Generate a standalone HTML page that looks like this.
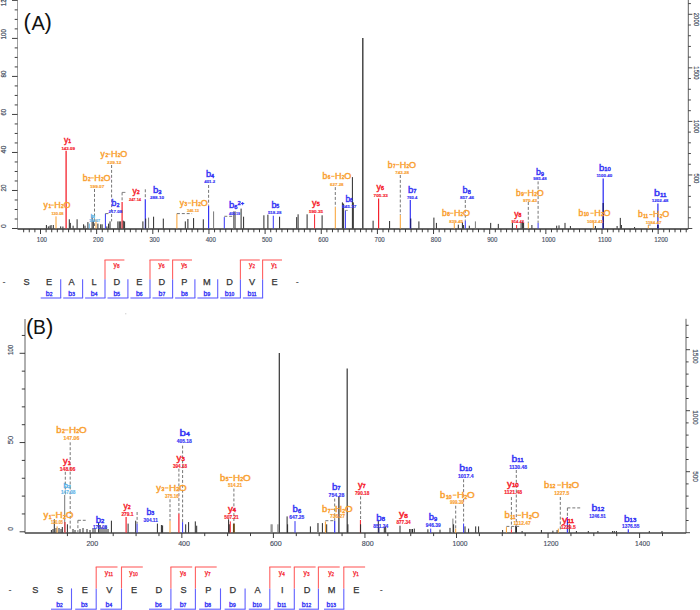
<!DOCTYPE html><html><head><meta charset="utf-8"><style>html,body{margin:0;padding:0;background:#fff;}#w{width:700px;height:610px;overflow:hidden;}svg{display:block;font-family:"Liberation Sans",sans-serif;}</style></head><body>
<div id="w"><svg width="700" height="610" viewBox="0 0 700 610">
<rect width="700" height="610" fill="#fff"/>
<g>
<line x1="17.5" y1="0" x2="17.5" y2="229" stroke="#a0a0a0" stroke-width="1"/>
<text x="0" y="0" font-size="7.4" fill="#454d60" stroke="#454d60" stroke-width="0.2" textLength="10.3" lengthAdjust="spacingAndGlyphs" transform="translate(6.2,6.2) rotate(-90)">120</text>
<line x1="12" y1="228.5" x2="17.5" y2="228.5" stroke="#333333" stroke-width="0.95"/>
<line x1="14.7" y1="219" x2="17.5" y2="219" stroke="#333333" stroke-width="0.95"/>
<line x1="14.7" y1="209.49" x2="17.5" y2="209.49" stroke="#333333" stroke-width="0.95"/>
<line x1="14.7" y1="199.99" x2="17.5" y2="199.99" stroke="#333333" stroke-width="0.95"/>
<line x1="12" y1="190.48" x2="17.5" y2="190.48" stroke="#333333" stroke-width="0.95"/>
<line x1="14.7" y1="180.97" x2="17.5" y2="180.97" stroke="#333333" stroke-width="0.95"/>
<line x1="14.7" y1="171.47" x2="17.5" y2="171.47" stroke="#333333" stroke-width="0.95"/>
<line x1="14.7" y1="161.96" x2="17.5" y2="161.96" stroke="#333333" stroke-width="0.95"/>
<line x1="12" y1="152.46" x2="17.5" y2="152.46" stroke="#333333" stroke-width="0.95"/>
<line x1="14.7" y1="142.95" x2="17.5" y2="142.95" stroke="#333333" stroke-width="0.95"/>
<line x1="14.7" y1="133.45" x2="17.5" y2="133.45" stroke="#333333" stroke-width="0.95"/>
<line x1="14.7" y1="123.94" x2="17.5" y2="123.94" stroke="#333333" stroke-width="0.95"/>
<line x1="12" y1="114.44" x2="17.5" y2="114.44" stroke="#333333" stroke-width="0.95"/>
<line x1="14.7" y1="104.93" x2="17.5" y2="104.93" stroke="#333333" stroke-width="0.95"/>
<line x1="14.7" y1="95.43" x2="17.5" y2="95.43" stroke="#333333" stroke-width="0.95"/>
<line x1="14.7" y1="85.92" x2="17.5" y2="85.92" stroke="#333333" stroke-width="0.95"/>
<line x1="12" y1="76.42" x2="17.5" y2="76.42" stroke="#333333" stroke-width="0.95"/>
<line x1="14.7" y1="66.91" x2="17.5" y2="66.91" stroke="#333333" stroke-width="0.95"/>
<line x1="14.7" y1="57.41" x2="17.5" y2="57.41" stroke="#333333" stroke-width="0.95"/>
<line x1="14.7" y1="47.9" x2="17.5" y2="47.9" stroke="#333333" stroke-width="0.95"/>
<line x1="12" y1="38.4" x2="17.5" y2="38.4" stroke="#333333" stroke-width="0.95"/>
<line x1="14.7" y1="28.89" x2="17.5" y2="28.89" stroke="#333333" stroke-width="0.95"/>
<line x1="14.7" y1="19.39" x2="17.5" y2="19.39" stroke="#333333" stroke-width="0.95"/>
<line x1="14.7" y1="9.88" x2="17.5" y2="9.88" stroke="#333333" stroke-width="0.95"/>
<line x1="12" y1="0.38" x2="17.5" y2="0.38" stroke="#333333" stroke-width="0.95"/>
<text x="0" y="0" font-size="7.4" fill="#454d60" stroke="#454d60" stroke-width="0.2" textLength="3.8" lengthAdjust="spacingAndGlyphs" transform="translate(6.2,228) rotate(-90)">0</text>
<text x="0" y="0" font-size="7.4" fill="#454d60" stroke="#454d60" stroke-width="0.2" textLength="7" lengthAdjust="spacingAndGlyphs" transform="translate(6.2,191.48) rotate(-90)">20</text>
<text x="0" y="0" font-size="7.4" fill="#454d60" stroke="#454d60" stroke-width="0.2" textLength="7.7" lengthAdjust="spacingAndGlyphs" transform="translate(6.2,153.46) rotate(-90)">40</text>
<text x="0" y="0" font-size="7.4" fill="#454d60" stroke="#454d60" stroke-width="0.2" textLength="6.6" lengthAdjust="spacingAndGlyphs" transform="translate(6.2,115.44) rotate(-90)">60</text>
<text x="0" y="0" font-size="7.4" fill="#454d60" stroke="#454d60" stroke-width="0.2" textLength="6.9" lengthAdjust="spacingAndGlyphs" transform="translate(6.2,77.42) rotate(-90)">80</text>
<text x="0" y="0" font-size="7.4" fill="#454d60" stroke="#454d60" stroke-width="0.2" textLength="10.3" lengthAdjust="spacingAndGlyphs" transform="translate(6.2,39.4) rotate(-90)">100</text>
<text x="0" y="0" font-size="7.4" fill="#454d60" stroke="#454d60" stroke-width="0.2" textLength="10.3" lengthAdjust="spacingAndGlyphs" transform="translate(6.2,1.38) rotate(-90)">120</text>
<line x1="688.3" y1="0" x2="688.3" y2="229" stroke="#606060" stroke-width="1"/>
<line x1="688.3" y1="228.5" x2="692.3" y2="228.5" stroke="#333333" stroke-width="0.9"/>
<line x1="688.3" y1="217.79" x2="690.9" y2="217.79" stroke="#333333" stroke-width="0.9"/>
<line x1="688.3" y1="207.08" x2="690.9" y2="207.08" stroke="#333333" stroke-width="0.9"/>
<line x1="688.3" y1="196.37" x2="690.9" y2="196.37" stroke="#333333" stroke-width="0.9"/>
<line x1="688.3" y1="185.66" x2="690.9" y2="185.66" stroke="#333333" stroke-width="0.9"/>
<line x1="688.3" y1="174.95" x2="692.3" y2="174.95" stroke="#333333" stroke-width="0.9"/>
<line x1="688.3" y1="164.24" x2="690.9" y2="164.24" stroke="#333333" stroke-width="0.9"/>
<line x1="688.3" y1="153.53" x2="690.9" y2="153.53" stroke="#333333" stroke-width="0.9"/>
<line x1="688.3" y1="142.82" x2="690.9" y2="142.82" stroke="#333333" stroke-width="0.9"/>
<line x1="688.3" y1="132.11" x2="690.9" y2="132.11" stroke="#333333" stroke-width="0.9"/>
<line x1="688.3" y1="121.4" x2="692.3" y2="121.4" stroke="#333333" stroke-width="0.9"/>
<line x1="688.3" y1="110.69" x2="690.9" y2="110.69" stroke="#333333" stroke-width="0.9"/>
<line x1="688.3" y1="99.98" x2="690.9" y2="99.98" stroke="#333333" stroke-width="0.9"/>
<line x1="688.3" y1="89.27" x2="690.9" y2="89.27" stroke="#333333" stroke-width="0.9"/>
<line x1="688.3" y1="78.56" x2="690.9" y2="78.56" stroke="#333333" stroke-width="0.9"/>
<line x1="688.3" y1="67.85" x2="692.3" y2="67.85" stroke="#333333" stroke-width="0.9"/>
<line x1="688.3" y1="57.14" x2="690.9" y2="57.14" stroke="#333333" stroke-width="0.9"/>
<line x1="688.3" y1="46.43" x2="690.9" y2="46.43" stroke="#333333" stroke-width="0.9"/>
<line x1="688.3" y1="35.72" x2="690.9" y2="35.72" stroke="#333333" stroke-width="0.9"/>
<line x1="688.3" y1="25.01" x2="690.9" y2="25.01" stroke="#333333" stroke-width="0.9"/>
<line x1="688.3" y1="14.3" x2="692.3" y2="14.3" stroke="#333333" stroke-width="0.9"/>
<line x1="688.3" y1="3.59" x2="690.9" y2="3.59" stroke="#333333" stroke-width="0.9"/>
<text x="0" y="0" font-size="7.4" fill="#454d60" stroke="#454d60" stroke-width="0.2" textLength="10" lengthAdjust="spacingAndGlyphs" transform="translate(694,173.45) rotate(90)">500</text>
<text x="0" y="0" font-size="7.4" fill="#454d60" stroke="#454d60" stroke-width="0.2" textLength="13.3" lengthAdjust="spacingAndGlyphs" transform="translate(694,119.9) rotate(90)">1000</text>
<text x="0" y="0" font-size="7.4" fill="#454d60" stroke="#454d60" stroke-width="0.2" textLength="13.3" lengthAdjust="spacingAndGlyphs" transform="translate(694,66.35) rotate(90)">1500</text>
<text x="0" y="0" font-size="7.4" fill="#454d60" stroke="#454d60" stroke-width="0.2" textLength="13.3" lengthAdjust="spacingAndGlyphs" transform="translate(694,12.8) rotate(90)">2000</text>
<line x1="17.5" y1="229" x2="688.3" y2="229" stroke="#333333" stroke-width="1.3"/>
<line x1="23.66" y1="229" x2="23.66" y2="232.3" stroke="#333333" stroke-width="0.95"/>
<line x1="29.27" y1="229" x2="29.27" y2="232.3" stroke="#333333" stroke-width="0.95"/>
<line x1="34.88" y1="229" x2="34.88" y2="232.3" stroke="#333333" stroke-width="0.95"/>
<line x1="40.5" y1="229" x2="40.5" y2="234" stroke="#333333" stroke-width="0.95"/>
<line x1="46.12" y1="229" x2="46.12" y2="232.3" stroke="#333333" stroke-width="0.95"/>
<line x1="51.73" y1="229" x2="51.73" y2="232.3" stroke="#333333" stroke-width="0.95"/>
<line x1="57.34" y1="229" x2="57.34" y2="232.3" stroke="#333333" stroke-width="0.95"/>
<line x1="62.96" y1="229" x2="62.96" y2="232.3" stroke="#333333" stroke-width="0.95"/>
<line x1="68.58" y1="229" x2="68.58" y2="232.3" stroke="#333333" stroke-width="0.95"/>
<line x1="74.19" y1="229" x2="74.19" y2="232.3" stroke="#333333" stroke-width="0.95"/>
<line x1="79.81" y1="229" x2="79.81" y2="232.3" stroke="#333333" stroke-width="0.95"/>
<line x1="85.42" y1="229" x2="85.42" y2="232.3" stroke="#333333" stroke-width="0.95"/>
<line x1="91.03" y1="229" x2="91.03" y2="232.3" stroke="#333333" stroke-width="0.95"/>
<line x1="96.65" y1="229" x2="96.65" y2="234" stroke="#333333" stroke-width="0.95"/>
<line x1="102.27" y1="229" x2="102.27" y2="232.3" stroke="#333333" stroke-width="0.95"/>
<line x1="107.88" y1="229" x2="107.88" y2="232.3" stroke="#333333" stroke-width="0.95"/>
<line x1="113.5" y1="229" x2="113.5" y2="232.3" stroke="#333333" stroke-width="0.95"/>
<line x1="119.11" y1="229" x2="119.11" y2="232.3" stroke="#333333" stroke-width="0.95"/>
<line x1="124.72" y1="229" x2="124.72" y2="232.3" stroke="#333333" stroke-width="0.95"/>
<line x1="130.34" y1="229" x2="130.34" y2="232.3" stroke="#333333" stroke-width="0.95"/>
<line x1="135.95" y1="229" x2="135.95" y2="232.3" stroke="#333333" stroke-width="0.95"/>
<line x1="141.57" y1="229" x2="141.57" y2="232.3" stroke="#333333" stroke-width="0.95"/>
<line x1="147.19" y1="229" x2="147.19" y2="232.3" stroke="#333333" stroke-width="0.95"/>
<line x1="152.8" y1="229" x2="152.8" y2="234" stroke="#333333" stroke-width="0.95"/>
<line x1="158.42" y1="229" x2="158.42" y2="232.3" stroke="#333333" stroke-width="0.95"/>
<line x1="164.03" y1="229" x2="164.03" y2="232.3" stroke="#333333" stroke-width="0.95"/>
<line x1="169.65" y1="229" x2="169.65" y2="232.3" stroke="#333333" stroke-width="0.95"/>
<line x1="175.26" y1="229" x2="175.26" y2="232.3" stroke="#333333" stroke-width="0.95"/>
<line x1="180.88" y1="229" x2="180.88" y2="232.3" stroke="#333333" stroke-width="0.95"/>
<line x1="186.49" y1="229" x2="186.49" y2="232.3" stroke="#333333" stroke-width="0.95"/>
<line x1="192.1" y1="229" x2="192.1" y2="232.3" stroke="#333333" stroke-width="0.95"/>
<line x1="197.72" y1="229" x2="197.72" y2="232.3" stroke="#333333" stroke-width="0.95"/>
<line x1="203.34" y1="229" x2="203.34" y2="232.3" stroke="#333333" stroke-width="0.95"/>
<line x1="208.95" y1="229" x2="208.95" y2="234" stroke="#333333" stroke-width="0.95"/>
<line x1="214.56" y1="229" x2="214.56" y2="232.3" stroke="#333333" stroke-width="0.95"/>
<line x1="220.18" y1="229" x2="220.18" y2="232.3" stroke="#333333" stroke-width="0.95"/>
<line x1="225.79" y1="229" x2="225.79" y2="232.3" stroke="#333333" stroke-width="0.95"/>
<line x1="231.41" y1="229" x2="231.41" y2="232.3" stroke="#333333" stroke-width="0.95"/>
<line x1="237.03" y1="229" x2="237.03" y2="232.3" stroke="#333333" stroke-width="0.95"/>
<line x1="242.64" y1="229" x2="242.64" y2="232.3" stroke="#333333" stroke-width="0.95"/>
<line x1="248.25" y1="229" x2="248.25" y2="232.3" stroke="#333333" stroke-width="0.95"/>
<line x1="253.87" y1="229" x2="253.87" y2="232.3" stroke="#333333" stroke-width="0.95"/>
<line x1="259.49" y1="229" x2="259.49" y2="232.3" stroke="#333333" stroke-width="0.95"/>
<line x1="265.1" y1="229" x2="265.1" y2="234" stroke="#333333" stroke-width="0.95"/>
<line x1="270.72" y1="229" x2="270.72" y2="232.3" stroke="#333333" stroke-width="0.95"/>
<line x1="276.33" y1="229" x2="276.33" y2="232.3" stroke="#333333" stroke-width="0.95"/>
<line x1="281.94" y1="229" x2="281.94" y2="232.3" stroke="#333333" stroke-width="0.95"/>
<line x1="287.56" y1="229" x2="287.56" y2="232.3" stroke="#333333" stroke-width="0.95"/>
<line x1="293.18" y1="229" x2="293.18" y2="232.3" stroke="#333333" stroke-width="0.95"/>
<line x1="298.79" y1="229" x2="298.79" y2="232.3" stroke="#333333" stroke-width="0.95"/>
<line x1="304.4" y1="229" x2="304.4" y2="232.3" stroke="#333333" stroke-width="0.95"/>
<line x1="310.02" y1="229" x2="310.02" y2="232.3" stroke="#333333" stroke-width="0.95"/>
<line x1="315.63" y1="229" x2="315.63" y2="232.3" stroke="#333333" stroke-width="0.95"/>
<line x1="321.25" y1="229" x2="321.25" y2="234" stroke="#333333" stroke-width="0.95"/>
<line x1="326.87" y1="229" x2="326.87" y2="232.3" stroke="#333333" stroke-width="0.95"/>
<line x1="332.48" y1="229" x2="332.48" y2="232.3" stroke="#333333" stroke-width="0.95"/>
<line x1="338.1" y1="229" x2="338.1" y2="232.3" stroke="#333333" stroke-width="0.95"/>
<line x1="343.71" y1="229" x2="343.71" y2="232.3" stroke="#333333" stroke-width="0.95"/>
<line x1="349.32" y1="229" x2="349.32" y2="232.3" stroke="#333333" stroke-width="0.95"/>
<line x1="354.94" y1="229" x2="354.94" y2="232.3" stroke="#333333" stroke-width="0.95"/>
<line x1="360.56" y1="229" x2="360.56" y2="232.3" stroke="#333333" stroke-width="0.95"/>
<line x1="366.17" y1="229" x2="366.17" y2="232.3" stroke="#333333" stroke-width="0.95"/>
<line x1="371.79" y1="229" x2="371.79" y2="232.3" stroke="#333333" stroke-width="0.95"/>
<line x1="377.4" y1="229" x2="377.4" y2="234" stroke="#333333" stroke-width="0.95"/>
<line x1="383.01" y1="229" x2="383.01" y2="232.3" stroke="#333333" stroke-width="0.95"/>
<line x1="388.63" y1="229" x2="388.63" y2="232.3" stroke="#333333" stroke-width="0.95"/>
<line x1="394.25" y1="229" x2="394.25" y2="232.3" stroke="#333333" stroke-width="0.95"/>
<line x1="399.86" y1="229" x2="399.86" y2="232.3" stroke="#333333" stroke-width="0.95"/>
<line x1="405.48" y1="229" x2="405.48" y2="232.3" stroke="#333333" stroke-width="0.95"/>
<line x1="411.09" y1="229" x2="411.09" y2="232.3" stroke="#333333" stroke-width="0.95"/>
<line x1="416.7" y1="229" x2="416.7" y2="232.3" stroke="#333333" stroke-width="0.95"/>
<line x1="422.32" y1="229" x2="422.32" y2="232.3" stroke="#333333" stroke-width="0.95"/>
<line x1="427.94" y1="229" x2="427.94" y2="232.3" stroke="#333333" stroke-width="0.95"/>
<line x1="433.55" y1="229" x2="433.55" y2="234" stroke="#333333" stroke-width="0.95"/>
<line x1="439.17" y1="229" x2="439.17" y2="232.3" stroke="#333333" stroke-width="0.95"/>
<line x1="444.78" y1="229" x2="444.78" y2="232.3" stroke="#333333" stroke-width="0.95"/>
<line x1="450.39" y1="229" x2="450.39" y2="232.3" stroke="#333333" stroke-width="0.95"/>
<line x1="456.01" y1="229" x2="456.01" y2="232.3" stroke="#333333" stroke-width="0.95"/>
<line x1="461.62" y1="229" x2="461.62" y2="232.3" stroke="#333333" stroke-width="0.95"/>
<line x1="467.24" y1="229" x2="467.24" y2="232.3" stroke="#333333" stroke-width="0.95"/>
<line x1="472.86" y1="229" x2="472.86" y2="232.3" stroke="#333333" stroke-width="0.95"/>
<line x1="478.47" y1="229" x2="478.47" y2="232.3" stroke="#333333" stroke-width="0.95"/>
<line x1="484.08" y1="229" x2="484.08" y2="232.3" stroke="#333333" stroke-width="0.95"/>
<line x1="489.7" y1="229" x2="489.7" y2="234" stroke="#333333" stroke-width="0.95"/>
<line x1="495.31" y1="229" x2="495.31" y2="232.3" stroke="#333333" stroke-width="0.95"/>
<line x1="500.93" y1="229" x2="500.93" y2="232.3" stroke="#333333" stroke-width="0.95"/>
<line x1="506.55" y1="229" x2="506.55" y2="232.3" stroke="#333333" stroke-width="0.95"/>
<line x1="512.16" y1="229" x2="512.16" y2="232.3" stroke="#333333" stroke-width="0.95"/>
<line x1="517.77" y1="229" x2="517.77" y2="232.3" stroke="#333333" stroke-width="0.95"/>
<line x1="523.39" y1="229" x2="523.39" y2="232.3" stroke="#333333" stroke-width="0.95"/>
<line x1="529" y1="229" x2="529" y2="232.3" stroke="#333333" stroke-width="0.95"/>
<line x1="534.62" y1="229" x2="534.62" y2="232.3" stroke="#333333" stroke-width="0.95"/>
<line x1="540.24" y1="229" x2="540.24" y2="232.3" stroke="#333333" stroke-width="0.95"/>
<line x1="545.85" y1="229" x2="545.85" y2="234" stroke="#333333" stroke-width="0.95"/>
<line x1="551.46" y1="229" x2="551.46" y2="232.3" stroke="#333333" stroke-width="0.95"/>
<line x1="557.08" y1="229" x2="557.08" y2="232.3" stroke="#333333" stroke-width="0.95"/>
<line x1="562.7" y1="229" x2="562.7" y2="232.3" stroke="#333333" stroke-width="0.95"/>
<line x1="568.31" y1="229" x2="568.31" y2="232.3" stroke="#333333" stroke-width="0.95"/>
<line x1="573.92" y1="229" x2="573.92" y2="232.3" stroke="#333333" stroke-width="0.95"/>
<line x1="579.54" y1="229" x2="579.54" y2="232.3" stroke="#333333" stroke-width="0.95"/>
<line x1="585.15" y1="229" x2="585.15" y2="232.3" stroke="#333333" stroke-width="0.95"/>
<line x1="590.77" y1="229" x2="590.77" y2="232.3" stroke="#333333" stroke-width="0.95"/>
<line x1="596.38" y1="229" x2="596.38" y2="232.3" stroke="#333333" stroke-width="0.95"/>
<line x1="602" y1="229" x2="602" y2="234" stroke="#333333" stroke-width="0.95"/>
<line x1="607.62" y1="229" x2="607.62" y2="232.3" stroke="#333333" stroke-width="0.95"/>
<line x1="613.23" y1="229" x2="613.23" y2="232.3" stroke="#333333" stroke-width="0.95"/>
<line x1="618.85" y1="229" x2="618.85" y2="232.3" stroke="#333333" stroke-width="0.95"/>
<line x1="624.46" y1="229" x2="624.46" y2="232.3" stroke="#333333" stroke-width="0.95"/>
<line x1="630.08" y1="229" x2="630.08" y2="232.3" stroke="#333333" stroke-width="0.95"/>
<line x1="635.69" y1="229" x2="635.69" y2="232.3" stroke="#333333" stroke-width="0.95"/>
<line x1="641.3" y1="229" x2="641.3" y2="232.3" stroke="#333333" stroke-width="0.95"/>
<line x1="646.92" y1="229" x2="646.92" y2="232.3" stroke="#333333" stroke-width="0.95"/>
<line x1="652.53" y1="229" x2="652.53" y2="232.3" stroke="#333333" stroke-width="0.95"/>
<line x1="658.15" y1="229" x2="658.15" y2="234" stroke="#333333" stroke-width="0.95"/>
<line x1="663.76" y1="229" x2="663.76" y2="232.3" stroke="#333333" stroke-width="0.95"/>
<line x1="669.38" y1="229" x2="669.38" y2="232.3" stroke="#333333" stroke-width="0.95"/>
<line x1="675" y1="229" x2="675" y2="232.3" stroke="#333333" stroke-width="0.95"/>
<line x1="680.61" y1="229" x2="680.61" y2="232.3" stroke="#333333" stroke-width="0.95"/>
<line x1="686.23" y1="229" x2="686.23" y2="232.3" stroke="#333333" stroke-width="0.95"/>
<text x="36.8" y="241.6" font-size="7.4" fill="#454d60" text-anchor="start" textLength="10.2" lengthAdjust="spacingAndGlyphs" stroke="#454d60" stroke-width="0.15">100</text>
<text x="93.1" y="241.6" font-size="7.4" fill="#454d60" text-anchor="start" textLength="10.2" lengthAdjust="spacingAndGlyphs" stroke="#454d60" stroke-width="0.15">200</text>
<text x="149.39" y="241.6" font-size="7.4" fill="#454d60" text-anchor="start" textLength="10.2" lengthAdjust="spacingAndGlyphs" stroke="#454d60" stroke-width="0.15">300</text>
<text x="205.69" y="241.6" font-size="7.4" fill="#454d60" text-anchor="start" textLength="10.2" lengthAdjust="spacingAndGlyphs" stroke="#454d60" stroke-width="0.15">400</text>
<text x="261.98" y="241.6" font-size="7.4" fill="#454d60" text-anchor="start" textLength="10.2" lengthAdjust="spacingAndGlyphs" stroke="#454d60" stroke-width="0.15">500</text>
<text x="318.28" y="241.6" font-size="7.4" fill="#454d60" text-anchor="start" textLength="10.2" lengthAdjust="spacingAndGlyphs" stroke="#454d60" stroke-width="0.15">600</text>
<text x="374.57" y="241.6" font-size="7.4" fill="#454d60" text-anchor="start" textLength="10.2" lengthAdjust="spacingAndGlyphs" stroke="#454d60" stroke-width="0.15">700</text>
<text x="430.87" y="241.6" font-size="7.4" fill="#454d60" text-anchor="start" textLength="10.2" lengthAdjust="spacingAndGlyphs" stroke="#454d60" stroke-width="0.15">800</text>
<text x="487.16" y="241.6" font-size="7.4" fill="#454d60" text-anchor="start" textLength="10.2" lengthAdjust="spacingAndGlyphs" stroke="#454d60" stroke-width="0.15">900</text>
<text x="541.76" y="241.6" font-size="7.4" fill="#454d60" text-anchor="start" textLength="13.6" lengthAdjust="spacingAndGlyphs" stroke="#454d60" stroke-width="0.15">1000</text>
<text x="598.05" y="241.6" font-size="7.4" fill="#454d60" text-anchor="start" textLength="13.6" lengthAdjust="spacingAndGlyphs" stroke="#454d60" stroke-width="0.15">1100</text>
<text x="654.35" y="241.6" font-size="7.4" fill="#454d60" text-anchor="start" textLength="13.6" lengthAdjust="spacingAndGlyphs" stroke="#454d60" stroke-width="0.15">1200</text>
<text x="23.6" y="29.35" font-size="22" fill="#111" text-anchor="start">(</text>
<text x="31.5" y="29.6" font-size="20" fill="#111" text-anchor="start">A</text>
<text x="44.4" y="29.35" font-size="22" fill="#111" text-anchor="start">)</text>
<line x1="46.4" y1="228.5" x2="46.4" y2="225" stroke="#2a2a2a" stroke-width="1"/>
<line x1="48.3" y1="228.5" x2="48.3" y2="226.4" stroke="#2a2a2a" stroke-width="1"/>
<line x1="50" y1="228.5" x2="50" y2="225.7" stroke="#2a2a2a" stroke-width="1"/>
<line x1="51.1" y1="228.5" x2="51.1" y2="225" stroke="#2a2a2a" stroke-width="1"/>
<line x1="53.3" y1="228.5" x2="53.3" y2="225" stroke="#2a2a2a" stroke-width="1"/>
<line x1="56" y1="228.5" x2="56" y2="216.4" stroke="#f9a030" stroke-width="1"/>
<line x1="60.7" y1="228.5" x2="60.7" y2="226.4" stroke="#2a2a2a" stroke-width="1"/>
<line x1="62.9" y1="228.5" x2="62.9" y2="226.5" stroke="#2a2a2a" stroke-width="1"/>
<line x1="66.1" y1="228.5" x2="66.1" y2="150.8" stroke="#f5222d" stroke-width="1.3"/>
<line x1="69.3" y1="228.5" x2="69.3" y2="219.3" stroke="#2a2a2a" stroke-width="1"/>
<line x1="70.3" y1="228.5" x2="70.3" y2="222.9" stroke="#2a2a2a" stroke-width="1"/>
<line x1="73.1" y1="228.5" x2="73.1" y2="225.7" stroke="#2a2a2a" stroke-width="1"/>
<line x1="77.1" y1="228.5" x2="77.1" y2="219.3" stroke="#2a2a2a" stroke-width="1"/>
<line x1="83.6" y1="228.5" x2="83.6" y2="224.3" stroke="#2a2a2a" stroke-width="1"/>
<line x1="85" y1="228.5" x2="85" y2="225.7" stroke="#2a2a2a" stroke-width="1"/>
<line x1="87.9" y1="228.5" x2="87.9" y2="222.1" stroke="#2a2a2a" stroke-width="1"/>
<line x1="89.3" y1="228.5" x2="89.3" y2="223.6" stroke="#5fb4e8" stroke-width="1"/>
<line x1="92.1" y1="228.5" x2="92.1" y2="216.4" stroke="#2a2a2a" stroke-width="1"/>
<line x1="93.3" y1="228.5" x2="93.3" y2="220.7" stroke="#2a2a2a" stroke-width="1"/>
<line x1="96" y1="228.5" x2="96" y2="219.3" stroke="#f9a030" stroke-width="1"/>
<line x1="97.9" y1="228.5" x2="97.9" y2="223.6" stroke="#2a2a2a" stroke-width="1"/>
<line x1="100.7" y1="228.5" x2="100.7" y2="224.3" stroke="#2a2a2a" stroke-width="1"/>
<line x1="102.1" y1="228.5" x2="102.1" y2="224.3" stroke="#2a2a2a" stroke-width="1"/>
<line x1="105.4" y1="228.5" x2="105.4" y2="213.6" stroke="#3535f5" stroke-width="1"/>
<line x1="106.9" y1="228.5" x2="106.9" y2="226.4" stroke="#2a2a2a" stroke-width="1"/>
<line x1="108.6" y1="228.5" x2="108.6" y2="223.6" stroke="#2a2a2a" stroke-width="1"/>
<line x1="110" y1="228.5" x2="110" y2="221.4" stroke="#2a2a2a" stroke-width="1"/>
<line x1="117.9" y1="228.5" x2="117.9" y2="221.4" stroke="#2a2a2a" stroke-width="1"/>
<line x1="119.3" y1="228.5" x2="119.3" y2="221.4" stroke="#2a2a2a" stroke-width="1"/>
<line x1="120.7" y1="228.5" x2="120.7" y2="221.4" stroke="#2a2a2a" stroke-width="1"/>
<line x1="122.1" y1="228.5" x2="122.1" y2="201.9" stroke="#f5222d" stroke-width="1.2"/>
<line x1="123.3" y1="228.5" x2="123.3" y2="220.7" stroke="#2a2a2a" stroke-width="1"/>
<line x1="124.6" y1="228.5" x2="124.6" y2="221.4" stroke="#2a2a2a" stroke-width="1"/>
<line x1="142.9" y1="228.5" x2="142.9" y2="221.4" stroke="#2a2a2a" stroke-width="1"/>
<line x1="145.3" y1="228.5" x2="145.3" y2="199.3" stroke="#3535f5" stroke-width="1.2"/>
<line x1="145.7" y1="228.5" x2="145.7" y2="218.6" stroke="#2a2a2a" stroke-width="1"/>
<line x1="148.6" y1="228.5" x2="148.6" y2="217.6" stroke="#787878" stroke-width="1"/>
<line x1="153.6" y1="228.5" x2="153.6" y2="216.7" stroke="#2a2a2a" stroke-width="1"/>
<line x1="163.3" y1="228.5" x2="163.3" y2="218.6" stroke="#2a2a2a" stroke-width="1"/>
<line x1="176.9" y1="228.5" x2="176.9" y2="213.6" stroke="#f9a030" stroke-width="1"/>
<line x1="185.3" y1="228.5" x2="185.3" y2="221.4" stroke="#2a2a2a" stroke-width="1"/>
<line x1="187.9" y1="228.5" x2="187.9" y2="219" stroke="#2a2a2a" stroke-width="1"/>
<line x1="193.6" y1="228.5" x2="193.6" y2="218.1" stroke="#2a2a2a" stroke-width="1"/>
<line x1="203.3" y1="228.5" x2="203.3" y2="219.3" stroke="#2a2a2a" stroke-width="1"/>
<line x1="208.6" y1="228.5" x2="208.6" y2="205.7" stroke="#3535f5" stroke-width="1.2"/>
<line x1="213.6" y1="228.5" x2="213.6" y2="211.4" stroke="#787878" stroke-width="1"/>
<line x1="224.3" y1="228.5" x2="224.3" y2="217.1" stroke="#3535f5" stroke-width="1"/>
<line x1="233.6" y1="228.5" x2="233.6" y2="211.4" stroke="#787878" stroke-width="1"/>
<line x1="235" y1="228.5" x2="235" y2="211.4" stroke="#2a2a2a" stroke-width="1"/>
<line x1="241.1" y1="228.5" x2="241.1" y2="208.6" stroke="#2a2a2a" stroke-width="1"/>
<line x1="243.6" y1="228.5" x2="243.6" y2="216.7" stroke="#2a2a2a" stroke-width="1"/>
<line x1="263.9" y1="228.5" x2="263.9" y2="215.3" stroke="#2a2a2a" stroke-width="1"/>
<line x1="267.9" y1="228.5" x2="267.9" y2="214.7" stroke="#2a2a2a" stroke-width="1"/>
<line x1="273.3" y1="228.5" x2="273.3" y2="215.7" stroke="#3535f5" stroke-width="1"/>
<line x1="279.6" y1="228.5" x2="279.6" y2="216.7" stroke="#2a2a2a" stroke-width="1"/>
<line x1="296.7" y1="228.5" x2="296.7" y2="217.1" stroke="#2a2a2a" stroke-width="1"/>
<line x1="298.1" y1="228.5" x2="298.1" y2="214.3" stroke="#2a2a2a" stroke-width="1"/>
<line x1="307.1" y1="228.5" x2="307.1" y2="214.3" stroke="#2a2a2a" stroke-width="1"/>
<line x1="314.6" y1="228.5" x2="314.6" y2="214.3" stroke="#f5222d" stroke-width="1"/>
<line x1="322.1" y1="228.5" x2="322.1" y2="215.3" stroke="#2a2a2a" stroke-width="1"/>
<line x1="335.3" y1="228.5" x2="335.3" y2="207.1" stroke="#f9a030" stroke-width="1"/>
<line x1="342.4" y1="228.5" x2="342.4" y2="202.4" stroke="#2a2a2a" stroke-width="1"/>
<line x1="343.6" y1="228.5" x2="343.6" y2="203.6" stroke="#2a2a2a" stroke-width="1"/>
<line x1="345.4" y1="228.5" x2="345.4" y2="210.4" stroke="#3535f5" stroke-width="1"/>
<line x1="352.4" y1="228.5" x2="352.4" y2="177.1" stroke="#2a2a2a" stroke-width="1"/>
<line x1="353.3" y1="228.5" x2="353.3" y2="202.4" stroke="#2a2a2a" stroke-width="1"/>
<line x1="362.8" y1="228.5" x2="362.8" y2="38" stroke="#3a3a3a" stroke-width="1.4"/>
<line x1="373.1" y1="228.5" x2="373.1" y2="220.7" stroke="#2a2a2a" stroke-width="1"/>
<line x1="378.6" y1="228.5" x2="378.6" y2="198.6" stroke="#f5222d" stroke-width="1.2"/>
<line x1="389.6" y1="228.5" x2="389.6" y2="221" stroke="#2a2a2a" stroke-width="1"/>
<line x1="400.3" y1="228.5" x2="400.3" y2="215" stroke="#f9a030" stroke-width="1"/>
<line x1="410.3" y1="228.5" x2="410.3" y2="200" stroke="#3535f5" stroke-width="1.2"/>
<line x1="410.7" y1="228.5" x2="410.7" y2="218.6" stroke="#1a1a70" stroke-width="1.2"/>
<line x1="418.9" y1="228.5" x2="418.9" y2="221.4" stroke="#2a2a2a" stroke-width="1"/>
<line x1="433.9" y1="228.5" x2="433.9" y2="217.6" stroke="#2a2a2a" stroke-width="1"/>
<line x1="436.4" y1="228.5" x2="436.4" y2="222.9" stroke="#2a2a2a" stroke-width="1"/>
<line x1="454.3" y1="228.5" x2="454.3" y2="222.9" stroke="#f9a030" stroke-width="1"/>
<line x1="458.3" y1="228.5" x2="458.3" y2="224.7" stroke="#2a2a2a" stroke-width="1"/>
<line x1="462.4" y1="228.5" x2="462.4" y2="221.9" stroke="#2a2a2a" stroke-width="1"/>
<line x1="463.6" y1="228.5" x2="463.6" y2="225" stroke="#2a2a2a" stroke-width="1"/>
<line x1="465.3" y1="228.5" x2="465.3" y2="220.7" stroke="#3535f5" stroke-width="1"/>
<line x1="469.3" y1="228.5" x2="469.3" y2="225.7" stroke="#2a2a2a" stroke-width="1"/>
<line x1="475.4" y1="228.5" x2="475.4" y2="221.4" stroke="#787878" stroke-width="1"/>
<line x1="490.7" y1="228.5" x2="490.7" y2="222.9" stroke="#2a2a2a" stroke-width="1"/>
<line x1="498.3" y1="228.5" x2="498.3" y2="223.9" stroke="#2a2a2a" stroke-width="1"/>
<line x1="512.4" y1="228.5" x2="512.4" y2="222.9" stroke="#2a2a2a" stroke-width="1"/>
<line x1="516.6" y1="228.5" x2="516.6" y2="225" stroke="#f5222d" stroke-width="1"/>
<line x1="521.1" y1="228.5" x2="521.1" y2="222.1" stroke="#2a2a2a" stroke-width="1"/>
<line x1="522.6" y1="228.5" x2="522.6" y2="221.4" stroke="#2a2a2a" stroke-width="1"/>
<line x1="523.6" y1="228.5" x2="523.6" y2="222.9" stroke="#2a2a2a" stroke-width="1"/>
<line x1="528.3" y1="228.5" x2="528.3" y2="222.9" stroke="#f9a030" stroke-width="1"/>
<line x1="531.9" y1="228.5" x2="531.9" y2="225" stroke="#2a2a2a" stroke-width="1"/>
<line x1="538.1" y1="228.5" x2="538.1" y2="222.9" stroke="#3535f5" stroke-width="1"/>
<line x1="556.7" y1="228.5" x2="556.7" y2="225.7" stroke="#2a2a2a" stroke-width="1"/>
<line x1="559" y1="228.5" x2="559" y2="225.4" stroke="#2a2a2a" stroke-width="1"/>
<line x1="565" y1="228.5" x2="565" y2="222.9" stroke="#2a2a2a" stroke-width="1"/>
<line x1="570.4" y1="228.5" x2="570.4" y2="226" stroke="#2a2a2a" stroke-width="1"/>
<line x1="593.3" y1="228.5" x2="593.3" y2="222.9" stroke="#f9a030" stroke-width="1"/>
<line x1="595.4" y1="228.5" x2="595.4" y2="226" stroke="#2a2a2a" stroke-width="1"/>
<line x1="603.2" y1="228.5" x2="603.2" y2="178.6" stroke="#3535f5" stroke-width="1.3"/>
<line x1="603.2" y1="228.5" x2="603.2" y2="202.9" stroke="#1a1a70" stroke-width="1.3"/>
<line x1="617.1" y1="228.5" x2="617.1" y2="226" stroke="#2a2a2a" stroke-width="1"/>
<line x1="620.3" y1="228.5" x2="620.3" y2="217.9" stroke="#2a2a2a" stroke-width="1"/>
<line x1="621.4" y1="228.5" x2="621.4" y2="225" stroke="#2a2a2a" stroke-width="1"/>
<line x1="634.6" y1="228.5" x2="634.6" y2="227" stroke="#2a2a2a" stroke-width="1"/>
<line x1="648.3" y1="228.5" x2="648.3" y2="225" stroke="#f9a030" stroke-width="1"/>
<line x1="657.9" y1="228.5" x2="657.9" y2="203.6" stroke="#3535f5" stroke-width="1.3"/>
<line x1="657.9" y1="228.5" x2="657.9" y2="225" stroke="#1a1a70" stroke-width="1.6"/>
<line x1="94.5" y1="189" x2="94.5" y2="226" stroke="#767676" stroke-width="1" stroke-dasharray="3,1.9"/>
<line x1="111.6" y1="165" x2="111.6" y2="221.4" stroke="#767676" stroke-width="1" stroke-dasharray="3,1.9"/>
<line x1="105.4" y1="213.6" x2="110" y2="213.6" stroke="#767676" stroke-width="1" stroke-dasharray="3,1.9"/>
<line x1="122.1" y1="192.4" x2="125.4" y2="192.4" stroke="#767676" stroke-width="0.9"/>
<line x1="122.1" y1="192.4" x2="122.1" y2="201.9" stroke="#767676" stroke-width="1" stroke-dasharray="3,1.9"/>
<line x1="145.3" y1="189.3" x2="145.3" y2="199.3" stroke="#767676" stroke-width="1" stroke-dasharray="3,1.9"/>
<line x1="176.9" y1="213.6" x2="192.1" y2="213.6" stroke="#767676" stroke-width="1" stroke-dasharray="3,1.9"/>
<line x1="208.6" y1="185" x2="208.6" y2="205.7" stroke="#767676" stroke-width="1" stroke-dasharray="3,1.9"/>
<line x1="224.3" y1="216.3" x2="233.6" y2="216.3" stroke="#767676" stroke-width="1" stroke-dasharray="3,1.9"/>
<line x1="335.3" y1="187.1" x2="335.3" y2="207.1" stroke="#767676" stroke-width="1" stroke-dasharray="3,1.9"/>
<line x1="345.4" y1="210.4" x2="347.8" y2="210.4" stroke="#767676" stroke-width="0.8"/>
<line x1="400.3" y1="175" x2="400.3" y2="215" stroke="#767676" stroke-width="1" stroke-dasharray="3,1.9"/>
<line x1="465.3" y1="200" x2="465.3" y2="220.7" stroke="#767676" stroke-width="1" stroke-dasharray="3,1.9"/>
<line x1="528.3" y1="202" x2="528.3" y2="222.9" stroke="#767676" stroke-width="1" stroke-dasharray="3,1.9"/>
<line x1="538.1" y1="181.4" x2="538.1" y2="222.9" stroke="#767676" stroke-width="1" stroke-dasharray="3,1.9"/>
<line x1="648.3" y1="225" x2="650.8" y2="225" stroke="#767676" stroke-width="0.8"/>
<text x="64" y="142.5" font-size="8.6" fill="#f5222d" text-anchor="start" textLength="7.1" lengthAdjust="spacingAndGlyphs" stroke="#f5222d" stroke-width="0.42">y<tspan font-size="5.16" dy="0.4">1</tspan></text>
<text x="61.4" y="149.6" font-size="4.1" fill="#f5222d" text-anchor="start" textLength="13.6" lengthAdjust="spacingAndGlyphs" font-weight="bold" stroke="#f5222d" stroke-width="0.15">143.09</text>
<text x="43.6" y="207.9" font-size="8.6" fill="#f9a030" text-anchor="start" stroke="#f9a030" stroke-width="0.42">y<tspan font-size="4.6" dx="0.5" dy="0.3">1</tspan></text>
<line x1="50.4" y1="205.1" x2="53.8" y2="205.1" stroke="#f9a030" stroke-width="0.95"/>
<text x="54.3" y="207.9" font-size="9" fill="#f9a030" text-anchor="start" stroke="#f9a030" stroke-width="0.42">H</text>
<text x="61" y="208.2" font-size="4.6" fill="#f9a030" text-anchor="start" stroke="#f9a030" stroke-width="0.42">2</text>
<text x="70.5" y="207.9" font-size="9" fill="#f9a030" text-anchor="end" stroke="#f9a030" stroke-width="0.42">O</text>
<text x="51.4" y="215.1" font-size="4.1" fill="#f9a030" text-anchor="start" textLength="12.2" lengthAdjust="spacingAndGlyphs" font-weight="bold" stroke="#f9a030" stroke-width="0.15">130.08</text>
<text x="100.6" y="156.9" font-size="8.6" fill="#f9a030" text-anchor="start" stroke="#f9a030" stroke-width="0.42">y<tspan font-size="4.6" dx="0.5" dy="0.3">2</tspan></text>
<line x1="107.1" y1="154.1" x2="110.5" y2="154.1" stroke="#f9a030" stroke-width="0.95"/>
<text x="111" y="156.9" font-size="9" fill="#f9a030" text-anchor="start" stroke="#f9a030" stroke-width="0.42">H</text>
<text x="117.7" y="157.2" font-size="4.6" fill="#f9a030" text-anchor="start" stroke="#f9a030" stroke-width="0.42">2</text>
<text x="127.2" y="156.9" font-size="9" fill="#f9a030" text-anchor="end" stroke="#f9a030" stroke-width="0.42">O</text>
<text x="107.1" y="163.8" font-size="4.1" fill="#f9a030" text-anchor="start" textLength="14.3" lengthAdjust="spacingAndGlyphs" font-weight="bold" stroke="#f9a030" stroke-width="0.15">229.12</text>
<text x="82.8" y="180.7" font-size="8.6" fill="#f9a030" text-anchor="start" stroke="#f9a030" stroke-width="0.42">b<tspan font-size="4.6" dx="0.5" dy="0.3">2</tspan></text>
<line x1="90.4" y1="177.9" x2="93.8" y2="177.9" stroke="#f9a030" stroke-width="0.95"/>
<text x="94.3" y="180.7" font-size="9" fill="#f9a030" text-anchor="start" stroke="#f9a030" stroke-width="0.42">H</text>
<text x="101" y="181" font-size="4.6" fill="#f9a030" text-anchor="start" stroke="#f9a030" stroke-width="0.42">2</text>
<text x="110.5" y="180.7" font-size="9" fill="#f9a030" text-anchor="end" stroke="#f9a030" stroke-width="0.42">O</text>
<text x="90" y="187.9" font-size="4.1" fill="#f9a030" text-anchor="start" textLength="14.3" lengthAdjust="spacingAndGlyphs" font-weight="bold" stroke="#f9a030" stroke-width="0.15">199.07</text>
<text x="111.6" y="206.2" font-size="8.6" fill="#3535f5" text-anchor="start" textLength="7.8" lengthAdjust="spacingAndGlyphs" stroke="#3535f5" stroke-width="0.42">b<tspan font-size="5.16" dy="0.4">2</tspan></text>
<text x="108.6" y="212.6" font-size="4.1" fill="#3535f5" text-anchor="start" textLength="13.5" lengthAdjust="spacingAndGlyphs" font-weight="bold" stroke="#3535f5" stroke-width="0.15">217.08</text>
<text x="90.7" y="218" font-size="5" fill="#5fb4e8" text-anchor="start" textLength="4.1" lengthAdjust="spacingAndGlyphs" stroke="#5fb4e8" stroke-width="0.42">b<tspan font-size="3" dy="0.4">2</tspan></text>
<text x="89.3" y="222.2" font-size="3.4" fill="#5fb4e8" text-anchor="start" textLength="10.7" lengthAdjust="spacingAndGlyphs" font-weight="bold" stroke="#5fb4e8" stroke-width="0.15">199.07</text>
<text x="132.4" y="194" font-size="8.6" fill="#f5222d" text-anchor="start" textLength="7.2" lengthAdjust="spacingAndGlyphs" stroke="#f5222d" stroke-width="0.42">y<tspan font-size="5.16" dy="0.4">2</tspan></text>
<text x="129" y="201.2" font-size="4.1" fill="#f5222d" text-anchor="start" textLength="12" lengthAdjust="spacingAndGlyphs" font-weight="bold" stroke="#f5222d" stroke-width="0.15">247.14</text>
<text x="152.9" y="193.4" font-size="8.6" fill="#3535f5" text-anchor="start" textLength="8.5" lengthAdjust="spacingAndGlyphs" stroke="#3535f5" stroke-width="0.42">b<tspan font-size="5.16" dy="0.4">3</tspan></text>
<text x="150" y="198.5" font-size="4.1" fill="#3535f5" text-anchor="start" textLength="14" lengthAdjust="spacingAndGlyphs" font-weight="bold" stroke="#3535f5" stroke-width="0.15">288.10</text>
<text x="205.9" y="177.4" font-size="8.6" fill="#3535f5" text-anchor="start" textLength="8.2" lengthAdjust="spacingAndGlyphs" stroke="#3535f5" stroke-width="0.42">b<tspan font-size="5.16" dy="0.4">4</tspan></text>
<text x="204.3" y="182.9" font-size="4.1" fill="#3535f5" text-anchor="start" textLength="10.8" lengthAdjust="spacingAndGlyphs" font-weight="bold" stroke="#3535f5" stroke-width="0.15">401.2</text>
<text x="179.7" y="205.8" font-size="8.6" fill="#f9a030" text-anchor="start" stroke="#f9a030" stroke-width="0.42">y<tspan font-size="4.6" dx="0.5" dy="0.3">3</tspan></text>
<line x1="187.7" y1="203" x2="191.1" y2="203" stroke="#f9a030" stroke-width="0.95"/>
<text x="191.6" y="205.8" font-size="9" fill="#f9a030" text-anchor="start" stroke="#f9a030" stroke-width="0.42">H</text>
<text x="198.3" y="206.1" font-size="4.6" fill="#f9a030" text-anchor="start" stroke="#f9a030" stroke-width="0.42">2</text>
<text x="207.8" y="205.8" font-size="9" fill="#f9a030" text-anchor="end" stroke="#f9a030" stroke-width="0.42">O</text>
<text x="187" y="212" font-size="4.1" fill="#f9a030" text-anchor="start" textLength="12" lengthAdjust="spacingAndGlyphs" font-weight="bold" stroke="#f9a030" stroke-width="0.15">346.13</text>
<text x="229" y="208.3" font-size="8.6" fill="#3535f5" text-anchor="start" textLength="15" lengthAdjust="spacingAndGlyphs" stroke="#3535f5" stroke-width="0.42">b<tspan font-size="5.16" dy="0.4">6</tspan><tspan font-size="5.16" dy="-4.2">2+</tspan><tspan dy="3.8"></tspan></text>
<text x="229" y="215.4" font-size="4.1" fill="#3535f5" text-anchor="start" textLength="11" lengthAdjust="spacingAndGlyphs" font-weight="bold" stroke="#3535f5" stroke-width="0.15">400.19</text>
<text x="271.4" y="208" font-size="8.6" fill="#3535f5" text-anchor="start" textLength="7.9" lengthAdjust="spacingAndGlyphs" stroke="#3535f5" stroke-width="0.42">b<tspan font-size="5.16" dy="0.4">5</tspan></text>
<text x="267.9" y="213.6" font-size="4.1" fill="#3535f5" text-anchor="start" textLength="13.5" lengthAdjust="spacingAndGlyphs" font-weight="bold" stroke="#3535f5" stroke-width="0.15">518.28</text>
<text x="312.1" y="205.6" font-size="8.6" fill="#f5222d" text-anchor="start" textLength="7.6" lengthAdjust="spacingAndGlyphs" stroke="#f5222d" stroke-width="0.42">y<tspan font-size="5.16" dy="0.4">5</tspan></text>
<text x="309" y="213" font-size="4.1" fill="#f5222d" text-anchor="start" textLength="14" lengthAdjust="spacingAndGlyphs" font-weight="bold" stroke="#f5222d" stroke-width="0.15">590.35</text>
<text x="322.4" y="179.1" font-size="8.6" fill="#f9a030" text-anchor="start" stroke="#f9a030" stroke-width="0.42">b<tspan font-size="4.6" dx="0.5" dy="0.3">6</tspan></text>
<line x1="331.1" y1="176.3" x2="334.5" y2="176.3" stroke="#f9a030" stroke-width="0.95"/>
<text x="335" y="179.1" font-size="9" fill="#f9a030" text-anchor="start" stroke="#f9a030" stroke-width="0.42">H</text>
<text x="341.7" y="179.4" font-size="4.6" fill="#f9a030" text-anchor="start" stroke="#f9a030" stroke-width="0.42">2</text>
<text x="351.2" y="179.1" font-size="9" fill="#f9a030" text-anchor="end" stroke="#f9a030" stroke-width="0.42">O</text>
<text x="330" y="185.5" font-size="4.1" fill="#f9a030" text-anchor="start" textLength="13.6" lengthAdjust="spacingAndGlyphs" font-weight="bold" stroke="#f9a030" stroke-width="0.15">627.28</text>
<text x="345.4" y="201.9" font-size="8.6" fill="#3535f5" text-anchor="start" textLength="7.5" lengthAdjust="spacingAndGlyphs" stroke="#3535f5" stroke-width="0.42">b<tspan font-size="5.16" dy="0.4">6</tspan></text>
<text x="342" y="208.2" font-size="4.1" fill="#3535f5" text-anchor="start" textLength="14.4" lengthAdjust="spacingAndGlyphs" font-weight="bold" stroke="#3535f5" stroke-width="0.15">645.37</text>
<text x="376.4" y="189.9" font-size="8.6" fill="#f5222d" text-anchor="start" textLength="7.5" lengthAdjust="spacingAndGlyphs" stroke="#f5222d" stroke-width="0.42">y<tspan font-size="5.16" dy="0.4">6</tspan></text>
<text x="373.6" y="196.9" font-size="4.1" fill="#f5222d" text-anchor="start" textLength="14.3" lengthAdjust="spacingAndGlyphs" font-weight="bold" stroke="#f5222d" stroke-width="0.15">705.33</text>
<text x="387.8" y="167.5" font-size="8.6" fill="#f9a030" text-anchor="start" stroke="#f9a030" stroke-width="0.42">b<tspan font-size="4.6" dx="0.5" dy="0.3">7</tspan></text>
<line x1="395.9" y1="164.7" x2="399.3" y2="164.7" stroke="#f9a030" stroke-width="0.95"/>
<text x="399.8" y="167.5" font-size="9" fill="#f9a030" text-anchor="start" stroke="#f9a030" stroke-width="0.42">H</text>
<text x="406.5" y="167.8" font-size="4.6" fill="#f9a030" text-anchor="start" stroke="#f9a030" stroke-width="0.42">2</text>
<text x="416" y="167.5" font-size="9" fill="#f9a030" text-anchor="end" stroke="#f9a030" stroke-width="0.42">O</text>
<text x="395.2" y="174.1" font-size="4.1" fill="#f9a030" text-anchor="start" textLength="13.8" lengthAdjust="spacingAndGlyphs" font-weight="bold" stroke="#f9a030" stroke-width="0.15">743.28</text>
<text x="407.9" y="192.7" font-size="8.6" fill="#3535f5" text-anchor="start" textLength="8.5" lengthAdjust="spacingAndGlyphs" stroke="#3535f5" stroke-width="0.42">b<tspan font-size="5.16" dy="0.4">7</tspan></text>
<text x="407" y="199.2" font-size="4.1" fill="#3535f5" text-anchor="start" textLength="10.4" lengthAdjust="spacingAndGlyphs" font-weight="bold" stroke="#3535f5" stroke-width="0.15">760.4</text>
<text x="462.6" y="193.4" font-size="8.6" fill="#3535f5" text-anchor="start" textLength="8.1" lengthAdjust="spacingAndGlyphs" stroke="#3535f5" stroke-width="0.42">b<tspan font-size="5.16" dy="0.4">8</tspan></text>
<text x="460" y="199.1" font-size="4.1" fill="#3535f5" text-anchor="start" textLength="14" lengthAdjust="spacingAndGlyphs" font-weight="bold" stroke="#3535f5" stroke-width="0.15">857.46</text>
<text x="441.9" y="216" font-size="8.6" fill="#f9a030" text-anchor="start" stroke="#f9a030" stroke-width="0.42">b<tspan font-size="4.6" dx="0.5" dy="0.3">8</tspan></text>
<line x1="450" y1="213.2" x2="453.4" y2="213.2" stroke="#f9a030" stroke-width="0.95"/>
<text x="453.9" y="216" font-size="9" fill="#f9a030" text-anchor="start" stroke="#f9a030" stroke-width="0.42">H</text>
<text x="460.6" y="216.3" font-size="4.6" fill="#f9a030" text-anchor="start" stroke="#f9a030" stroke-width="0.42">2</text>
<text x="470.1" y="216" font-size="9" fill="#f9a030" text-anchor="end" stroke="#f9a030" stroke-width="0.42">O</text>
<text x="449.3" y="222.5" font-size="4.1" fill="#f9a030" text-anchor="start" textLength="13.6" lengthAdjust="spacingAndGlyphs" font-weight="bold" stroke="#f9a030" stroke-width="0.15">839.45</text>
<text x="514.3" y="217" font-size="8.6" fill="#f5222d" text-anchor="start" textLength="7.1" lengthAdjust="spacingAndGlyphs" stroke="#f5222d" stroke-width="0.42">y<tspan font-size="5.16" dy="0.4">8</tspan></text>
<text x="511.4" y="222.9" font-size="4.1" fill="#f5222d" text-anchor="start" textLength="12.9" lengthAdjust="spacingAndGlyphs" font-weight="bold" stroke="#f5222d" stroke-width="0.15">914.41</text>
<text x="536.1" y="175.3" font-size="8.6" fill="#3535f5" text-anchor="start" textLength="7.8" lengthAdjust="spacingAndGlyphs" stroke="#3535f5" stroke-width="0.42">b<tspan font-size="5.16" dy="0.4">9</tspan></text>
<text x="533.3" y="180.3" font-size="4.1" fill="#3535f5" text-anchor="start" textLength="13.4" lengthAdjust="spacingAndGlyphs" font-weight="bold" stroke="#3535f5" stroke-width="0.15">985.48</text>
<text x="516" y="195.7" font-size="8.6" fill="#f9a030" text-anchor="start" stroke="#f9a030" stroke-width="0.42">b<tspan font-size="4.6" dx="0.5" dy="0.3">9</tspan></text>
<line x1="523.7" y1="192.9" x2="527.1" y2="192.9" stroke="#f9a030" stroke-width="0.95"/>
<text x="527.6" y="195.7" font-size="9" fill="#f9a030" text-anchor="start" stroke="#f9a030" stroke-width="0.42">H</text>
<text x="534.3" y="196" font-size="4.6" fill="#f9a030" text-anchor="start" stroke="#f9a030" stroke-width="0.42">2</text>
<text x="543.8" y="195.7" font-size="9" fill="#f9a030" text-anchor="end" stroke="#f9a030" stroke-width="0.42">O</text>
<text x="522.9" y="201.9" font-size="4.1" fill="#f9a030" text-anchor="start" textLength="14.2" lengthAdjust="spacingAndGlyphs" font-weight="bold" stroke="#f9a030" stroke-width="0.15">970.43</text>
<text x="598.9" y="170.7" font-size="8.6" fill="#3535f5" text-anchor="start" textLength="11.7" lengthAdjust="spacingAndGlyphs" stroke="#3535f5" stroke-width="0.42">b<tspan font-size="5.16" dy="0.4">10</tspan></text>
<text x="596.4" y="177.2" font-size="4.1" fill="#3535f5" text-anchor="start" textLength="15.7" lengthAdjust="spacingAndGlyphs" font-weight="bold" stroke="#3535f5" stroke-width="0.15">1100.40</text>
<text x="578.4" y="216" font-size="8.6" fill="#f9a030" text-anchor="start" stroke="#f9a030" stroke-width="0.42">b<tspan font-size="4.6" dx="0.5" dy="0.3">10</tspan></text>
<line x1="590.3" y1="213.2" x2="593.7" y2="213.2" stroke="#f9a030" stroke-width="0.95"/>
<text x="594.2" y="216" font-size="9" fill="#f9a030" text-anchor="start" stroke="#f9a030" stroke-width="0.42">H</text>
<text x="600.9" y="216.3" font-size="4.6" fill="#f9a030" text-anchor="start" stroke="#f9a030" stroke-width="0.42">2</text>
<text x="610.4" y="216" font-size="9" fill="#f9a030" text-anchor="end" stroke="#f9a030" stroke-width="0.42">O</text>
<text x="587" y="222.5" font-size="4.1" fill="#f9a030" text-anchor="start" textLength="16" lengthAdjust="spacingAndGlyphs" font-weight="bold" stroke="#f9a030" stroke-width="0.15">1082.41</text>
<text x="654" y="196.4" font-size="8.6" fill="#3535f5" text-anchor="start" textLength="12.5" lengthAdjust="spacingAndGlyphs" stroke="#3535f5" stroke-width="0.42">b<tspan font-size="5.16" dy="0.4">11</tspan></text>
<text x="651.7" y="201.9" font-size="4.1" fill="#3535f5" text-anchor="start" textLength="16.6" lengthAdjust="spacingAndGlyphs" font-weight="bold" stroke="#3535f5" stroke-width="0.15">1202.48</text>
<text x="637.9" y="217.4" font-size="8.6" fill="#f9a030" text-anchor="start" stroke="#f9a030" stroke-width="0.42">b<tspan font-size="4.6" dx="0.5" dy="0.3">11</tspan></text>
<line x1="649.2" y1="214.6" x2="652.6" y2="214.6" stroke="#f9a030" stroke-width="0.95"/>
<text x="653.1" y="217.4" font-size="9" fill="#f9a030" text-anchor="start" stroke="#f9a030" stroke-width="0.42">H</text>
<text x="659.8" y="217.7" font-size="4.6" fill="#f9a030" text-anchor="start" stroke="#f9a030" stroke-width="0.42">2</text>
<text x="669.3" y="217.4" font-size="9" fill="#f9a030" text-anchor="end" stroke="#f9a030" stroke-width="0.42">O</text>
<text x="645.7" y="223.7" font-size="4.1" fill="#f9a030" text-anchor="start" textLength="15.7" lengthAdjust="spacingAndGlyphs" font-weight="bold" stroke="#f9a030" stroke-width="0.15">1184.47</text>
<text x="4" y="285" font-size="9.2" fill="#333" text-anchor="middle">-</text>
<text x="297.4" y="285" font-size="9.2" fill="#333" text-anchor="middle">-</text>
<text x="26.5" y="285.2" font-size="9.2" fill="#333" text-anchor="middle" stroke="#333" stroke-width="0.25">S</text>
<text x="49.05" y="285.2" font-size="9.2" fill="#333" text-anchor="middle" stroke="#333" stroke-width="0.25">E</text>
<text x="71.6" y="285.2" font-size="9.2" fill="#333" text-anchor="middle" stroke="#333" stroke-width="0.25">A</text>
<text x="94.15" y="285.2" font-size="9.2" fill="#333" text-anchor="middle" stroke="#333" stroke-width="0.25">L</text>
<text x="116.7" y="285.2" font-size="9.2" fill="#333" text-anchor="middle" stroke="#333" stroke-width="0.25">D</text>
<text x="139.25" y="285.2" font-size="9.2" fill="#333" text-anchor="middle" stroke="#333" stroke-width="0.25">E</text>
<text x="161.8" y="285.2" font-size="9.2" fill="#333" text-anchor="middle" stroke="#333" stroke-width="0.25">D</text>
<text x="184.35" y="285.2" font-size="9.2" fill="#333" text-anchor="middle" stroke="#333" stroke-width="0.25">P</text>
<text x="206.9" y="285.2" font-size="9.2" fill="#333" text-anchor="middle" stroke="#333" stroke-width="0.25">M</text>
<text x="229.45" y="285.2" font-size="9.2" fill="#333" text-anchor="middle" stroke="#333" stroke-width="0.25">D</text>
<text x="252" y="285.2" font-size="9.2" fill="#333" text-anchor="middle" stroke="#333" stroke-width="0.25">V</text>
<text x="274.55" y="285.2" font-size="9.2" fill="#333" text-anchor="middle" stroke="#333" stroke-width="0.25">E</text>
<line x1="40.7" y1="298" x2="61.2" y2="298" stroke="#6060ff" stroke-width="1.1"/>
<line x1="60.7" y1="279.3" x2="60.7" y2="298" stroke="#6060ff" stroke-width="1.1"/>
<text x="49.05" y="295.6" font-size="7" fill="#3535f5" text-anchor="middle" stroke="#3535f5" stroke-width="0.35">b<tspan font-size="4.9" dy="0.3">2</tspan></text>
<line x1="63.2" y1="298" x2="83.1" y2="298" stroke="#6060ff" stroke-width="1.1"/>
<line x1="82.6" y1="279.3" x2="82.6" y2="298" stroke="#6060ff" stroke-width="1.1"/>
<text x="71.6" y="295.6" font-size="7" fill="#3535f5" text-anchor="middle" stroke="#3535f5" stroke-width="0.35">b<tspan font-size="4.9" dy="0.3">3</tspan></text>
<line x1="85.1" y1="298" x2="105.5" y2="298" stroke="#6060ff" stroke-width="1.1"/>
<line x1="105" y1="279.3" x2="105" y2="298" stroke="#6060ff" stroke-width="1.1"/>
<text x="94.15" y="295.6" font-size="7" fill="#3535f5" text-anchor="middle" stroke="#3535f5" stroke-width="0.35">b<tspan font-size="4.9" dy="0.3">4</tspan></text>
<line x1="107.5" y1="298" x2="128.4" y2="298" stroke="#6060ff" stroke-width="1.1"/>
<line x1="127.9" y1="279.3" x2="127.9" y2="298" stroke="#6060ff" stroke-width="1.1"/>
<text x="116.7" y="295.6" font-size="7" fill="#3535f5" text-anchor="middle" stroke="#3535f5" stroke-width="0.35">b<tspan font-size="4.9" dy="0.3">5</tspan></text>
<line x1="130.4" y1="298" x2="150.5" y2="298" stroke="#6060ff" stroke-width="1.1"/>
<line x1="150" y1="279.3" x2="150" y2="298" stroke="#6060ff" stroke-width="1.1"/>
<text x="139.25" y="295.6" font-size="7" fill="#3535f5" text-anchor="middle" stroke="#3535f5" stroke-width="0.35">b<tspan font-size="4.9" dy="0.3">6</tspan></text>
<line x1="152.5" y1="298" x2="173.1" y2="298" stroke="#6060ff" stroke-width="1.1"/>
<line x1="172.6" y1="279.3" x2="172.6" y2="298" stroke="#6060ff" stroke-width="1.1"/>
<text x="161.8" y="295.6" font-size="7" fill="#3535f5" text-anchor="middle" stroke="#3535f5" stroke-width="0.35">b<tspan font-size="4.9" dy="0.3">7</tspan></text>
<line x1="175.1" y1="298" x2="195.4" y2="298" stroke="#6060ff" stroke-width="1.1"/>
<line x1="194.9" y1="279.3" x2="194.9" y2="298" stroke="#6060ff" stroke-width="1.1"/>
<text x="184.35" y="295.6" font-size="7" fill="#3535f5" text-anchor="middle" stroke="#3535f5" stroke-width="0.35">b<tspan font-size="4.9" dy="0.3">8</tspan></text>
<line x1="197.4" y1="298" x2="218.2" y2="298" stroke="#6060ff" stroke-width="1.1"/>
<line x1="217.7" y1="279.3" x2="217.7" y2="298" stroke="#6060ff" stroke-width="1.1"/>
<text x="206.9" y="295.6" font-size="7" fill="#3535f5" text-anchor="middle" stroke="#3535f5" stroke-width="0.35">b<tspan font-size="4.9" dy="0.3">9</tspan></text>
<line x1="220.2" y1="298" x2="240.9" y2="298" stroke="#6060ff" stroke-width="1.1"/>
<line x1="240.4" y1="279.3" x2="240.4" y2="298" stroke="#6060ff" stroke-width="1.1"/>
<text x="229.45" y="295.6" font-size="7" fill="#3535f5" text-anchor="middle" stroke="#3535f5" stroke-width="0.35">b<tspan font-size="4.9" dy="0.3">10</tspan></text>
<line x1="242.9" y1="298" x2="263.1" y2="298" stroke="#6060ff" stroke-width="1.1"/>
<line x1="262.6" y1="279.3" x2="262.6" y2="298" stroke="#6060ff" stroke-width="1.1"/>
<text x="252" y="295.6" font-size="7" fill="#3535f5" text-anchor="middle" stroke="#3535f5" stroke-width="0.35">b<tspan font-size="4.9" dy="0.3">11</tspan></text>
<line x1="105" y1="260" x2="105" y2="279.3" stroke="#ff6060" stroke-width="1.1"/>
<line x1="104.5" y1="260" x2="124.4" y2="260" stroke="#ff6060" stroke-width="1.1"/>
<text x="116.6" y="267.4" font-size="6.8" fill="#f5222d" text-anchor="middle" stroke="#f5222d" stroke-width="0.25">y<tspan font-size="4.6" dy="0.3">8</tspan></text>
<line x1="150" y1="260" x2="150" y2="279.3" stroke="#ff6060" stroke-width="1.1"/>
<line x1="149.5" y1="260" x2="169.4" y2="260" stroke="#ff6060" stroke-width="1.1"/>
<text x="161.6" y="267.4" font-size="6.8" fill="#f5222d" text-anchor="middle" stroke="#f5222d" stroke-width="0.25">y<tspan font-size="4.6" dy="0.3">6</tspan></text>
<line x1="172.6" y1="260" x2="172.6" y2="279.3" stroke="#ff6060" stroke-width="1.1"/>
<line x1="172.1" y1="260" x2="192" y2="260" stroke="#ff6060" stroke-width="1.1"/>
<text x="184.2" y="267.4" font-size="6.8" fill="#f5222d" text-anchor="middle" stroke="#f5222d" stroke-width="0.25">y<tspan font-size="4.6" dy="0.3">5</tspan></text>
<line x1="240.4" y1="260" x2="240.4" y2="279.3" stroke="#ff6060" stroke-width="1.1"/>
<line x1="239.9" y1="260" x2="259.8" y2="260" stroke="#ff6060" stroke-width="1.1"/>
<text x="252" y="267.4" font-size="6.8" fill="#f5222d" text-anchor="middle" stroke="#f5222d" stroke-width="0.25">y<tspan font-size="4.6" dy="0.3">2</tspan></text>
<line x1="262.6" y1="260" x2="262.6" y2="279.3" stroke="#ff6060" stroke-width="1.1"/>
<line x1="262.1" y1="260" x2="282" y2="260" stroke="#ff6060" stroke-width="1.1"/>
<text x="274.2" y="267.4" font-size="6.8" fill="#f5222d" text-anchor="middle" stroke="#f5222d" stroke-width="0.25">y<tspan font-size="4.6" dy="0.3">1</tspan></text>
<line x1="25" y1="319" x2="25" y2="533.2" stroke="#606060" stroke-width="1"/>
<line x1="19.6" y1="531.8" x2="25" y2="531.8" stroke="#333333" stroke-width="0.95"/>
<line x1="21.8" y1="513.95" x2="25" y2="513.95" stroke="#333333" stroke-width="0.95"/>
<line x1="21.8" y1="496.1" x2="25" y2="496.1" stroke="#333333" stroke-width="0.95"/>
<line x1="21.8" y1="478.25" x2="25" y2="478.25" stroke="#333333" stroke-width="0.95"/>
<line x1="21.8" y1="460.4" x2="25" y2="460.4" stroke="#333333" stroke-width="0.95"/>
<line x1="19.6" y1="442.55" x2="25" y2="442.55" stroke="#333333" stroke-width="0.95"/>
<line x1="21.8" y1="424.7" x2="25" y2="424.7" stroke="#333333" stroke-width="0.95"/>
<line x1="21.8" y1="406.85" x2="25" y2="406.85" stroke="#333333" stroke-width="0.95"/>
<line x1="21.8" y1="389" x2="25" y2="389" stroke="#333333" stroke-width="0.95"/>
<line x1="21.8" y1="371.15" x2="25" y2="371.15" stroke="#333333" stroke-width="0.95"/>
<line x1="19.6" y1="353.3" x2="25" y2="353.3" stroke="#333333" stroke-width="0.95"/>
<line x1="21.8" y1="335.45" x2="25" y2="335.45" stroke="#333333" stroke-width="0.95"/>
<text x="0" y="0" font-size="7.8" fill="#454d60" stroke="#454d60" stroke-width="0.2" textLength="3.8" lengthAdjust="spacingAndGlyphs" transform="translate(12.6,530.7) rotate(-90)">0</text>
<text x="0" y="0" font-size="7.8" fill="#454d60" stroke="#454d60" stroke-width="0.2" textLength="8.6" lengthAdjust="spacingAndGlyphs" transform="translate(12.6,444.3) rotate(-90)">50</text>
<text x="0" y="0" font-size="7.8" fill="#454d60" stroke="#454d60" stroke-width="0.2" textLength="10.3" lengthAdjust="spacingAndGlyphs" transform="translate(12.6,355) rotate(-90)">100</text>
<line x1="686" y1="318.8" x2="686" y2="533.2" stroke="#606060" stroke-width="1"/>
<line x1="686" y1="532.7" x2="690" y2="532.7" stroke="#333333" stroke-width="0.9"/>
<line x1="686" y1="520.5" x2="688.6" y2="520.5" stroke="#333333" stroke-width="0.9"/>
<line x1="686" y1="508.3" x2="688.6" y2="508.3" stroke="#333333" stroke-width="0.9"/>
<line x1="686" y1="496.1" x2="688.6" y2="496.1" stroke="#333333" stroke-width="0.9"/>
<line x1="686" y1="483.9" x2="688.6" y2="483.9" stroke="#333333" stroke-width="0.9"/>
<line x1="686" y1="471.7" x2="690" y2="471.7" stroke="#333333" stroke-width="0.9"/>
<line x1="686" y1="459.5" x2="688.6" y2="459.5" stroke="#333333" stroke-width="0.9"/>
<line x1="686" y1="447.3" x2="688.6" y2="447.3" stroke="#333333" stroke-width="0.9"/>
<line x1="686" y1="435.1" x2="688.6" y2="435.1" stroke="#333333" stroke-width="0.9"/>
<line x1="686" y1="422.9" x2="688.6" y2="422.9" stroke="#333333" stroke-width="0.9"/>
<line x1="686" y1="410.7" x2="690" y2="410.7" stroke="#333333" stroke-width="0.9"/>
<line x1="686" y1="398.5" x2="688.6" y2="398.5" stroke="#333333" stroke-width="0.9"/>
<line x1="686" y1="386.3" x2="688.6" y2="386.3" stroke="#333333" stroke-width="0.9"/>
<line x1="686" y1="374.1" x2="688.6" y2="374.1" stroke="#333333" stroke-width="0.9"/>
<line x1="686" y1="361.9" x2="688.6" y2="361.9" stroke="#333333" stroke-width="0.9"/>
<line x1="686" y1="349.7" x2="690" y2="349.7" stroke="#333333" stroke-width="0.9"/>
<line x1="686" y1="337.5" x2="688.6" y2="337.5" stroke="#333333" stroke-width="0.9"/>
<line x1="686" y1="325.3" x2="688.6" y2="325.3" stroke="#333333" stroke-width="0.9"/>
<text x="0" y="0" font-size="7.6" fill="#454d60" stroke="#454d60" stroke-width="0.2" textLength="10.6" lengthAdjust="spacingAndGlyphs" transform="translate(692.5,471.2) rotate(90)">500</text>
<text x="0" y="0" font-size="7.6" fill="#454d60" stroke="#454d60" stroke-width="0.2" textLength="14.5" lengthAdjust="spacingAndGlyphs" transform="translate(692.5,410.2) rotate(90)">1000</text>
<text x="0" y="0" font-size="7.6" fill="#454d60" stroke="#454d60" stroke-width="0.2" textLength="14.5" lengthAdjust="spacingAndGlyphs" transform="translate(692.5,349.2) rotate(90)">1500</text>
<line x1="25" y1="533" x2="686" y2="533" stroke="#444" stroke-width="1.4"/>
<line x1="67.41" y1="533" x2="67.41" y2="536.1" stroke="#333333" stroke-width="0.95"/>
<line x1="90.3" y1="533" x2="90.3" y2="538" stroke="#333333" stroke-width="0.95"/>
<line x1="113.19" y1="533" x2="113.19" y2="536.1" stroke="#333333" stroke-width="0.95"/>
<line x1="136.07" y1="533" x2="136.07" y2="536.1" stroke="#333333" stroke-width="0.95"/>
<line x1="158.96" y1="533" x2="158.96" y2="536.1" stroke="#333333" stroke-width="0.95"/>
<line x1="181.85" y1="533" x2="181.85" y2="538" stroke="#333333" stroke-width="0.95"/>
<line x1="204.74" y1="533" x2="204.74" y2="536.1" stroke="#333333" stroke-width="0.95"/>
<line x1="227.62" y1="533" x2="227.62" y2="536.1" stroke="#333333" stroke-width="0.95"/>
<line x1="250.51" y1="533" x2="250.51" y2="536.1" stroke="#333333" stroke-width="0.95"/>
<line x1="273.4" y1="533" x2="273.4" y2="538" stroke="#333333" stroke-width="0.95"/>
<line x1="296.29" y1="533" x2="296.29" y2="536.1" stroke="#333333" stroke-width="0.95"/>
<line x1="319.18" y1="533" x2="319.18" y2="536.1" stroke="#333333" stroke-width="0.95"/>
<line x1="342.06" y1="533" x2="342.06" y2="536.1" stroke="#333333" stroke-width="0.95"/>
<line x1="364.95" y1="533" x2="364.95" y2="538" stroke="#333333" stroke-width="0.95"/>
<line x1="387.84" y1="533" x2="387.84" y2="536.1" stroke="#333333" stroke-width="0.95"/>
<line x1="410.73" y1="533" x2="410.73" y2="536.1" stroke="#333333" stroke-width="0.95"/>
<line x1="433.61" y1="533" x2="433.61" y2="536.1" stroke="#333333" stroke-width="0.95"/>
<line x1="456.5" y1="533" x2="456.5" y2="538" stroke="#333333" stroke-width="0.95"/>
<line x1="479.39" y1="533" x2="479.39" y2="536.1" stroke="#333333" stroke-width="0.95"/>
<line x1="502.27" y1="533" x2="502.27" y2="536.1" stroke="#333333" stroke-width="0.95"/>
<line x1="525.16" y1="533" x2="525.16" y2="536.1" stroke="#333333" stroke-width="0.95"/>
<line x1="548.05" y1="533" x2="548.05" y2="538" stroke="#333333" stroke-width="0.95"/>
<line x1="570.94" y1="533" x2="570.94" y2="536.1" stroke="#333333" stroke-width="0.95"/>
<line x1="593.82" y1="533" x2="593.82" y2="536.1" stroke="#333333" stroke-width="0.95"/>
<line x1="616.71" y1="533" x2="616.71" y2="536.1" stroke="#333333" stroke-width="0.95"/>
<line x1="639.6" y1="533" x2="639.6" y2="538" stroke="#333333" stroke-width="0.95"/>
<line x1="662.49" y1="533" x2="662.49" y2="536.1" stroke="#333333" stroke-width="0.95"/>
<text x="86.4" y="545.9" font-size="7.6" fill="#454d60" text-anchor="start" textLength="11.8" lengthAdjust="spacingAndGlyphs" stroke="#454d60" stroke-width="0.15">200</text>
<text x="178.15" y="545.9" font-size="7.6" fill="#454d60" text-anchor="start" textLength="11.8" lengthAdjust="spacingAndGlyphs" stroke="#454d60" stroke-width="0.15">400</text>
<text x="269.9" y="545.9" font-size="7.6" fill="#454d60" text-anchor="start" textLength="11.8" lengthAdjust="spacingAndGlyphs" stroke="#454d60" stroke-width="0.15">600</text>
<text x="361.85" y="545.9" font-size="7.6" fill="#454d60" text-anchor="start" textLength="11.8" lengthAdjust="spacingAndGlyphs" stroke="#454d60" stroke-width="0.15">800</text>
<text x="452.4" y="545.9" font-size="7.6" fill="#454d60" text-anchor="start" textLength="15" lengthAdjust="spacingAndGlyphs" stroke="#454d60" stroke-width="0.15">1000</text>
<text x="543.55" y="545.9" font-size="7.6" fill="#454d60" text-anchor="start" textLength="15" lengthAdjust="spacingAndGlyphs" stroke="#454d60" stroke-width="0.15">1200</text>
<text x="635" y="545.9" font-size="7.6" fill="#454d60" text-anchor="start" textLength="15" lengthAdjust="spacingAndGlyphs" stroke="#454d60" stroke-width="0.15">1400</text>
<text x="26" y="334.05" font-size="22" fill="#111" text-anchor="start">(</text>
<text x="33.1" y="333.6" font-size="19.3" fill="#111" text-anchor="start">B</text>
<text x="45.9" y="334.05" font-size="22" fill="#111" text-anchor="start">)</text>
<line x1="51.4" y1="532.7" x2="51.4" y2="530" stroke="#2a2a2a" stroke-width="1"/>
<line x1="53" y1="532.7" x2="53" y2="529" stroke="#2a2a2a" stroke-width="1"/>
<line x1="54.3" y1="532.7" x2="54.3" y2="519.3" stroke="#2a2a2a" stroke-width="1"/>
<line x1="56" y1="532.7" x2="56" y2="528" stroke="#2a2a2a" stroke-width="1"/>
<line x1="57.1" y1="532.7" x2="57.1" y2="526.4" stroke="#f9a030" stroke-width="1"/>
<line x1="59" y1="532.7" x2="59" y2="528" stroke="#2a2a2a" stroke-width="1"/>
<line x1="61" y1="532.7" x2="61" y2="529" stroke="#2a2a2a" stroke-width="1"/>
<line x1="62.3" y1="532.7" x2="62.3" y2="527" stroke="#2a2a2a" stroke-width="1"/>
<line x1="64.7" y1="532.7" x2="64.7" y2="495" stroke="#787878" stroke-width="1"/>
<line x1="65" y1="532.7" x2="65" y2="522" stroke="#f5222d" stroke-width="1"/>
<line x1="67.4" y1="532.7" x2="67.4" y2="524.3" stroke="#2a2a2a" stroke-width="1"/>
<line x1="73" y1="532.7" x2="73" y2="529" stroke="#2a2a2a" stroke-width="1"/>
<line x1="75" y1="532.7" x2="75" y2="530" stroke="#2a2a2a" stroke-width="1"/>
<line x1="80" y1="532.7" x2="80" y2="529" stroke="#2a2a2a" stroke-width="1"/>
<line x1="83" y1="532.7" x2="83" y2="528" stroke="#2a2a2a" stroke-width="1"/>
<line x1="87" y1="532.7" x2="87" y2="529" stroke="#2a2a2a" stroke-width="1"/>
<line x1="90" y1="532.7" x2="90" y2="530" stroke="#2a2a2a" stroke-width="1"/>
<line x1="93" y1="532.7" x2="93" y2="528" stroke="#2a2a2a" stroke-width="1"/>
<line x1="95" y1="532.7" x2="95" y2="528" stroke="#2a2a2a" stroke-width="1"/>
<line x1="98.6" y1="532.7" x2="98.6" y2="522.6" stroke="#2a2a2a" stroke-width="1"/>
<line x1="100" y1="532.7" x2="100" y2="525" stroke="#2a2a2a" stroke-width="1"/>
<line x1="102" y1="532.7" x2="102" y2="527" stroke="#2a2a2a" stroke-width="1"/>
<line x1="104" y1="532.7" x2="104" y2="528" stroke="#2a2a2a" stroke-width="1"/>
<line x1="106" y1="532.7" x2="106" y2="526" stroke="#2a2a2a" stroke-width="1"/>
<line x1="108" y1="532.7" x2="108" y2="529" stroke="#2a2a2a" stroke-width="1"/>
<line x1="111.4" y1="532.7" x2="111.4" y2="520.7" stroke="#2a2a2a" stroke-width="1"/>
<line x1="126.1" y1="532.7" x2="126.1" y2="516.9" stroke="#f5222d" stroke-width="1.2"/>
<line x1="128.1" y1="532.7" x2="128.1" y2="523.6" stroke="#2a2a2a" stroke-width="1"/>
<line x1="135.7" y1="532.7" x2="135.7" y2="520.7" stroke="#2a2a2a" stroke-width="1"/>
<line x1="137.1" y1="532.7" x2="137.1" y2="523.6" stroke="#3535f5" stroke-width="1"/>
<line x1="157.4" y1="532.7" x2="157.4" y2="523.6" stroke="#2a2a2a" stroke-width="1"/>
<line x1="161.4" y1="532.7" x2="161.4" y2="525" stroke="#2a2a2a" stroke-width="1"/>
<line x1="162.6" y1="532.7" x2="162.6" y2="525.4" stroke="#2a2a2a" stroke-width="1"/>
<line x1="170" y1="532.7" x2="170" y2="520.7" stroke="#f9a030" stroke-width="1"/>
<line x1="178.9" y1="532.7" x2="178.9" y2="513.6" stroke="#f5222d" stroke-width="1.2"/>
<line x1="182.6" y1="532.7" x2="182.6" y2="522.1" stroke="#3535f5" stroke-width="1"/>
<line x1="185.7" y1="532.7" x2="185.7" y2="524.3" stroke="#2a2a2a" stroke-width="1"/>
<line x1="188.6" y1="532.7" x2="188.6" y2="522.1" stroke="#2a2a2a" stroke-width="1"/>
<line x1="195.3" y1="532.7" x2="195.3" y2="521.4" stroke="#2a2a2a" stroke-width="1"/>
<line x1="196.7" y1="532.7" x2="196.7" y2="525.7" stroke="#2a2a2a" stroke-width="1"/>
<line x1="228.6" y1="532.7" x2="228.6" y2="519.3" stroke="#2a2a2a" stroke-width="1"/>
<line x1="229.3" y1="532.7" x2="229.3" y2="524.3" stroke="#2a2a2a" stroke-width="1"/>
<line x1="230.3" y1="532.7" x2="230.3" y2="521.4" stroke="#f5222d" stroke-width="1"/>
<line x1="233.9" y1="532.7" x2="233.9" y2="523.6" stroke="#6b4a14" stroke-width="1.9"/>
<line x1="271.1" y1="532.7" x2="271.1" y2="524.3" stroke="#787878" stroke-width="1"/>
<line x1="272.1" y1="532.7" x2="272.1" y2="524.3" stroke="#787878" stroke-width="1"/>
<line x1="277.9" y1="532.7" x2="277.9" y2="524.3" stroke="#787878" stroke-width="1"/>
<line x1="279.3" y1="532.7" x2="279.3" y2="353.1" stroke="#333" stroke-width="1.2"/>
<line x1="287.1" y1="532.7" x2="287.1" y2="516.4" stroke="#2a2a2a" stroke-width="1"/>
<line x1="287.6" y1="532.7" x2="287.6" y2="524.3" stroke="#2a2a2a" stroke-width="1"/>
<line x1="295" y1="532.7" x2="295" y2="521.1" stroke="#3535f5" stroke-width="1"/>
<line x1="310.4" y1="532.7" x2="310.4" y2="526.4" stroke="#2a2a2a" stroke-width="1"/>
<line x1="317.6" y1="532.7" x2="317.6" y2="523.1" stroke="#787878" stroke-width="1"/>
<line x1="318.3" y1="532.7" x2="318.3" y2="523.1" stroke="#787878" stroke-width="1"/>
<line x1="322.4" y1="532.7" x2="322.4" y2="523.1" stroke="#2a2a2a" stroke-width="1"/>
<line x1="325.4" y1="532.7" x2="325.4" y2="521.4" stroke="#f9a030" stroke-width="1"/>
<line x1="326.7" y1="532.7" x2="326.7" y2="524.3" stroke="#2a2a2a" stroke-width="1"/>
<line x1="334.7" y1="532.7" x2="334.7" y2="520.7" stroke="#3535f5" stroke-width="1.2"/>
<line x1="338.9" y1="532.7" x2="338.9" y2="496.4" stroke="#2a2a2a" stroke-width="1.2"/>
<line x1="347.2" y1="532.7" x2="347.2" y2="368.6" stroke="#444" stroke-width="1.3"/>
<line x1="347.9" y1="532.7" x2="347.9" y2="524.3" stroke="#2a2a2a" stroke-width="1"/>
<line x1="360.4" y1="532.7" x2="360.4" y2="520" stroke="#f5222d" stroke-width="1"/>
<line x1="360.6" y1="532.7" x2="360.6" y2="524.3" stroke="#2a2a2a" stroke-width="1"/>
<line x1="378.3" y1="532.7" x2="378.3" y2="520.7" stroke="#2a2a2a" stroke-width="1"/>
<line x1="378.9" y1="532.7" x2="378.9" y2="527" stroke="#1a1a70" stroke-width="1"/>
<line x1="384.3" y1="532.7" x2="384.3" y2="526.6" stroke="#2a2a2a" stroke-width="1"/>
<line x1="385.7" y1="532.7" x2="385.7" y2="526.6" stroke="#2a2a2a" stroke-width="1"/>
<line x1="400" y1="532.7" x2="400" y2="525.7" stroke="#2a2a2a" stroke-width="1"/>
<line x1="409.7" y1="532.7" x2="409.7" y2="529" stroke="#2a2a2a" stroke-width="1"/>
<line x1="411" y1="532.7" x2="411" y2="529" stroke="#2a2a2a" stroke-width="1"/>
<line x1="412.5" y1="532.7" x2="412.5" y2="529" stroke="#2a2a2a" stroke-width="1"/>
<line x1="414.3" y1="532.7" x2="414.3" y2="528.6" stroke="#2a2a2a" stroke-width="1"/>
<line x1="427.9" y1="532.7" x2="427.9" y2="529.3" stroke="#2a2a2a" stroke-width="1"/>
<line x1="430.7" y1="532.7" x2="430.7" y2="528.6" stroke="#3535f5" stroke-width="1"/>
<line x1="440" y1="532.7" x2="440" y2="529.7" stroke="#2a2a2a" stroke-width="1"/>
<line x1="450" y1="532.7" x2="450" y2="527.9" stroke="#2a2a2a" stroke-width="1"/>
<line x1="452.9" y1="532.7" x2="452.9" y2="518.6" stroke="#787878" stroke-width="1"/>
<line x1="453.6" y1="532.7" x2="453.6" y2="524.3" stroke="#2a2a2a" stroke-width="1"/>
<line x1="455.7" y1="532.7" x2="455.7" y2="528.6" stroke="#f9a030" stroke-width="1"/>
<line x1="463.6" y1="532.7" x2="463.6" y2="523.6" stroke="#3535f5" stroke-width="1"/>
<line x1="465" y1="532.7" x2="465" y2="526.4" stroke="#2a2a2a" stroke-width="1"/>
<line x1="468.6" y1="532.7" x2="468.6" y2="528.6" stroke="#2a2a2a" stroke-width="1"/>
<line x1="475.7" y1="532.7" x2="475.7" y2="526.4" stroke="#2a2a2a" stroke-width="1"/>
<line x1="478.6" y1="532.7" x2="478.6" y2="526.4" stroke="#2a2a2a" stroke-width="1"/>
<line x1="502.6" y1="532.7" x2="502.6" y2="530" stroke="#2a2a2a" stroke-width="1"/>
<line x1="506.4" y1="532.7" x2="506.4" y2="527.1" stroke="#f9a030" stroke-width="1"/>
<line x1="511.4" y1="532.7" x2="511.4" y2="529.3" stroke="#f5222d" stroke-width="1"/>
<line x1="515.7" y1="532.7" x2="515.7" y2="525.7" stroke="#2a2a2a" stroke-width="1"/>
<line x1="516.5" y1="532.7" x2="516.5" y2="526.4" stroke="#2a2a2a" stroke-width="1"/>
<line x1="522.1" y1="532.7" x2="522.1" y2="531" stroke="#2a2a2a" stroke-width="1"/>
<line x1="541.4" y1="532.7" x2="541.4" y2="530" stroke="#2a2a2a" stroke-width="1"/>
<line x1="552.9" y1="532.7" x2="552.9" y2="530.7" stroke="#2a2a2a" stroke-width="1"/>
<line x1="557.1" y1="532.7" x2="557.1" y2="530" stroke="#2a2a2a" stroke-width="1"/>
<line x1="558.3" y1="532.7" x2="558.3" y2="528.6" stroke="#f9a030" stroke-width="1"/>
<line x1="567.4" y1="532.7" x2="567.4" y2="517.1" stroke="#3535f5" stroke-width="1.2"/>
<line x1="569.3" y1="532.7" x2="569.3" y2="524.3" stroke="#2a2a2a" stroke-width="1"/>
<line x1="576.4" y1="532.7" x2="576.4" y2="531" stroke="#2a2a2a" stroke-width="1"/>
<line x1="588.3" y1="532.7" x2="588.3" y2="531" stroke="#2a2a2a" stroke-width="1"/>
<line x1="597.9" y1="532.7" x2="597.9" y2="531" stroke="#2a2a2a" stroke-width="1"/>
<line x1="612.6" y1="532.7" x2="612.6" y2="531" stroke="#2a2a2a" stroke-width="1"/>
<line x1="614.3" y1="532.7" x2="614.3" y2="531" stroke="#2a2a2a" stroke-width="1"/>
<line x1="616.4" y1="532.7" x2="616.4" y2="531" stroke="#2a2a2a" stroke-width="1"/>
<line x1="628.3" y1="532.7" x2="628.3" y2="529.3" stroke="#3535f5" stroke-width="1.2"/>
<line x1="649.3" y1="532.7" x2="649.3" y2="531" stroke="#2a2a2a" stroke-width="1"/>
<line x1="662" y1="532.7" x2="662" y2="531" stroke="#2a2a2a" stroke-width="1"/>
<line x1="65.3" y1="471.8" x2="65.3" y2="495" stroke="#767676" stroke-width="1" stroke-dasharray="3,1.9"/>
<line x1="70.2" y1="442.3" x2="70.2" y2="529.3" stroke="#767676" stroke-width="1" stroke-dasharray="3,1.9"/>
<line x1="77.9" y1="520.3" x2="85.7" y2="520.3" stroke="#767676" stroke-width="1" stroke-dasharray="3,1.9"/>
<line x1="77.9" y1="520.3" x2="77.9" y2="532" stroke="#767676" stroke-width="1" stroke-dasharray="3,1.9"/>
<line x1="137.1" y1="512" x2="137.1" y2="523.6" stroke="#767676" stroke-width="1" stroke-dasharray="3,1.9"/>
<line x1="170" y1="499.3" x2="170" y2="520.7" stroke="#767676" stroke-width="1" stroke-dasharray="3,1.9"/>
<line x1="178.9" y1="468.7" x2="178.9" y2="513.6" stroke="#767676" stroke-width="1" stroke-dasharray="3,1.9"/>
<line x1="182.6" y1="445.6" x2="182.6" y2="522.1" stroke="#767676" stroke-width="1" stroke-dasharray="3,1.9"/>
<line x1="233.9" y1="488.6" x2="233.9" y2="523.6" stroke="#767676" stroke-width="1" stroke-dasharray="3,1.9"/>
<line x1="325.4" y1="520.7" x2="334.3" y2="520.7" stroke="#767676" stroke-width="1" stroke-dasharray="3,1.9"/>
<line x1="334.7" y1="498.6" x2="334.7" y2="520.7" stroke="#767676" stroke-width="1" stroke-dasharray="3,1.9"/>
<line x1="360.6" y1="496.4" x2="360.6" y2="520" stroke="#767676" stroke-width="1" stroke-dasharray="3,1.9"/>
<line x1="455.7" y1="505.7" x2="455.7" y2="528.6" stroke="#767676" stroke-width="1" stroke-dasharray="3,1.9"/>
<line x1="463.6" y1="479.3" x2="463.6" y2="523.6" stroke="#767676" stroke-width="1" stroke-dasharray="3,1.9"/>
<line x1="506.4" y1="526.4" x2="520.7" y2="526.4" stroke="#767676" stroke-width="1" stroke-dasharray="3,1.9"/>
<line x1="511.4" y1="497.1" x2="511.4" y2="529.3" stroke="#767676" stroke-width="1" stroke-dasharray="3,1.9"/>
<line x1="516.3" y1="470" x2="516.3" y2="525.7" stroke="#767676" stroke-width="1" stroke-dasharray="3,1.9"/>
<line x1="560.3" y1="497" x2="560.3" y2="530" stroke="#767676" stroke-width="1" stroke-dasharray="3,1.9"/>
<line x1="567.4" y1="507.9" x2="567.4" y2="517.1" stroke="#767676" stroke-width="1" stroke-dasharray="3,1.9"/>
<line x1="567.4" y1="507.9" x2="581.4" y2="507.9" stroke="#767676" stroke-width="1" stroke-dasharray="3,1.9"/>
<text x="56.3" y="433" font-size="9.46" fill="#f9a030" text-anchor="start" stroke="#f9a030" stroke-width="0.46">b<tspan font-size="5.06" dx="0.55" dy="0.33">2</tspan></text>
<line x1="64.67" y1="429.92" x2="68.41" y2="429.92" stroke="#f9a030" stroke-width="1.04"/>
<text x="68.96" y="433" font-size="9.9" fill="#f9a030" text-anchor="start" stroke="#f9a030" stroke-width="0.46">H</text>
<text x="76.33" y="433.33" font-size="5.06" fill="#f9a030" text-anchor="start" stroke="#f9a030" stroke-width="0.46">2</text>
<text x="86.78" y="433" font-size="9.9" fill="#f9a030" text-anchor="end" stroke="#f9a030" stroke-width="0.46">O</text>
<text x="63.6" y="439.85" font-size="4.51" fill="#f9a030" text-anchor="start" textLength="15.7" lengthAdjust="spacingAndGlyphs" font-weight="bold" stroke="#f9a030" stroke-width="0.15">147.06</text>
<text x="63" y="464.2" font-size="9.46" fill="#f5222d" text-anchor="start" textLength="7.8" lengthAdjust="spacingAndGlyphs" stroke="#f5222d" stroke-width="0.46">y<tspan font-size="5.68" dy="0.44">1</tspan></text>
<text x="59.7" y="470.95" font-size="4.51" fill="#f5222d" text-anchor="start" textLength="15.7" lengthAdjust="spacingAndGlyphs" font-weight="bold" stroke="#f5222d" stroke-width="0.15">148.06</text>
<text x="63.6" y="487.5" font-size="6.6" fill="#5fb4e8" text-anchor="start" textLength="7.2" lengthAdjust="spacingAndGlyphs" stroke="#5fb4e8" stroke-width="0.46">b<tspan font-size="3.96" dy="0.44">2</tspan></text>
<text x="61" y="493.75" font-size="4.51" fill="#5fb4e8" text-anchor="start" textLength="14.4" lengthAdjust="spacingAndGlyphs" font-weight="bold" stroke="#5fb4e8" stroke-width="0.15">147.08</text>
<text x="43.5" y="518.3" font-size="9.46" fill="#f9a030" text-anchor="start" stroke="#f9a030" stroke-width="0.46">y<tspan font-size="5.06" dx="0.55" dy="0.33">1</tspan></text>
<line x1="51.27" y1="515.22" x2="55.01" y2="515.22" stroke="#f9a030" stroke-width="1.04"/>
<text x="55.56" y="518.3" font-size="9.9" fill="#f9a030" text-anchor="start" stroke="#f9a030" stroke-width="0.46">H</text>
<text x="62.93" y="518.63" font-size="5.06" fill="#f9a030" text-anchor="start" stroke="#f9a030" stroke-width="0.46">2</text>
<text x="73.38" y="518.3" font-size="9.9" fill="#f9a030" text-anchor="end" stroke="#f9a030" stroke-width="0.46">O</text>
<text x="51" y="524.45" font-size="4.51" fill="#f9a030" text-anchor="start" textLength="12" lengthAdjust="spacingAndGlyphs" font-weight="bold" stroke="#f9a030" stroke-width="0.15">130.05</text>
<text x="95.7" y="522.8" font-size="9.46" fill="#3535f5" text-anchor="start" textLength="8.6" lengthAdjust="spacingAndGlyphs" stroke="#3535f5" stroke-width="0.46">b<tspan font-size="5.68" dy="0.44">2</tspan></text>
<text x="92.9" y="528.65" font-size="4.51" fill="#3535f5" text-anchor="start" textLength="14.2" lengthAdjust="spacingAndGlyphs" font-weight="bold" stroke="#3535f5" stroke-width="0.15">173.08</text>
<text x="123.6" y="508.6" font-size="9.46" fill="#f5222d" text-anchor="start" textLength="7.1" lengthAdjust="spacingAndGlyphs" stroke="#f5222d" stroke-width="0.46">y<tspan font-size="5.68" dy="0.44">2</tspan></text>
<text x="121.4" y="515.65" font-size="4.51" fill="#f5222d" text-anchor="start" textLength="12.2" lengthAdjust="spacingAndGlyphs" font-weight="bold" stroke="#f5222d" stroke-width="0.15">279.1</text>
<text x="146.4" y="514.8" font-size="9.46" fill="#3535f5" text-anchor="start" textLength="7.9" lengthAdjust="spacingAndGlyphs" stroke="#3535f5" stroke-width="0.46">b<tspan font-size="5.68" dy="0.44">3</tspan></text>
<text x="143.6" y="522.25" font-size="4.51" fill="#3535f5" text-anchor="start" textLength="14.3" lengthAdjust="spacingAndGlyphs" font-weight="bold" stroke="#3535f5" stroke-width="0.15">304.11</text>
<text x="156.3" y="491" font-size="9.46" fill="#f9a030" text-anchor="start" stroke="#f9a030" stroke-width="0.46">y<tspan font-size="5.06" dx="0.55" dy="0.33">3</tspan></text>
<line x1="164.67" y1="487.92" x2="168.41" y2="487.92" stroke="#f9a030" stroke-width="1.04"/>
<text x="168.96" y="491" font-size="9.9" fill="#f9a030" text-anchor="start" stroke="#f9a030" stroke-width="0.46">H</text>
<text x="176.33" y="491.33" font-size="5.06" fill="#f9a030" text-anchor="start" stroke="#f9a030" stroke-width="0.46">2</text>
<text x="186.78" y="491" font-size="9.9" fill="#f9a030" text-anchor="end" stroke="#f9a030" stroke-width="0.46">O</text>
<text x="165" y="497.65" font-size="4.51" fill="#f9a030" text-anchor="start" textLength="13.6" lengthAdjust="spacingAndGlyphs" font-weight="bold" stroke="#f9a030" stroke-width="0.15">375.16</text>
<text x="176.5" y="460.6" font-size="9.46" fill="#f5222d" text-anchor="start" textLength="8.2" lengthAdjust="spacingAndGlyphs" stroke="#f5222d" stroke-width="0.46">y<tspan font-size="5.68" dy="0.44">3</tspan></text>
<text x="173" y="467.75" font-size="4.51" fill="#f5222d" text-anchor="start" textLength="14" lengthAdjust="spacingAndGlyphs" font-weight="bold" stroke="#f5222d" stroke-width="0.15">394.18</text>
<text x="179.6" y="436" font-size="9.46" fill="#3535f5" text-anchor="start" textLength="10.3" lengthAdjust="spacingAndGlyphs" stroke="#3535f5" stroke-width="0.46">b<tspan font-size="5.68" dy="0.44">4</tspan></text>
<text x="176.7" y="442.55" font-size="4.51" fill="#3535f5" text-anchor="start" textLength="15.2" lengthAdjust="spacingAndGlyphs" font-weight="bold" stroke="#3535f5" stroke-width="0.15">405.18</text>
<text x="219.9" y="480.5" font-size="9.46" fill="#f9a030" text-anchor="start" stroke="#f9a030" stroke-width="0.46">b<tspan font-size="5.06" dx="0.55" dy="0.33">5</tspan></text>
<line x1="228.67" y1="477.42" x2="232.41" y2="477.42" stroke="#f9a030" stroke-width="1.04"/>
<text x="232.96" y="480.5" font-size="9.9" fill="#f9a030" text-anchor="start" stroke="#f9a030" stroke-width="0.46">H</text>
<text x="240.33" y="480.83" font-size="5.06" fill="#f9a030" text-anchor="start" stroke="#f9a030" stroke-width="0.46">2</text>
<text x="250.78" y="480.5" font-size="9.9" fill="#f9a030" text-anchor="end" stroke="#f9a030" stroke-width="0.46">O</text>
<text x="227.9" y="486.95" font-size="4.51" fill="#f9a030" text-anchor="start" textLength="14.2" lengthAdjust="spacingAndGlyphs" font-weight="bold" stroke="#f9a030" stroke-width="0.15">514.21</text>
<text x="227.9" y="511.7" font-size="9.46" fill="#f5222d" text-anchor="start" textLength="8.2" lengthAdjust="spacingAndGlyphs" stroke="#f5222d" stroke-width="0.46">y<tspan font-size="5.68" dy="0.44">4</tspan></text>
<text x="224.3" y="518.75" font-size="4.51" fill="#f5222d" text-anchor="start" textLength="14.3" lengthAdjust="spacingAndGlyphs" font-weight="bold" stroke="#f5222d" stroke-width="0.15">507.21</text>
<text x="292.6" y="512.1" font-size="9.46" fill="#3535f5" text-anchor="start" textLength="8.5" lengthAdjust="spacingAndGlyphs" stroke="#3535f5" stroke-width="0.46">b<tspan font-size="5.68" dy="0.44">6</tspan></text>
<text x="289.3" y="518.85" font-size="4.51" fill="#3535f5" text-anchor="start" textLength="15" lengthAdjust="spacingAndGlyphs" font-weight="bold" stroke="#3535f5" stroke-width="0.15">647.25</text>
<text x="331.9" y="490" font-size="9.46" fill="#3535f5" text-anchor="start" textLength="8.6" lengthAdjust="spacingAndGlyphs" stroke="#3535f5" stroke-width="0.46">b<tspan font-size="5.68" dy="0.44">7</tspan></text>
<text x="328.6" y="496.55" font-size="4.51" fill="#3535f5" text-anchor="start" textLength="15.7" lengthAdjust="spacingAndGlyphs" font-weight="bold" stroke="#3535f5" stroke-width="0.15">754.28</text>
<text x="322" y="512.4" font-size="9.46" fill="#f9a030" text-anchor="start" stroke="#f9a030" stroke-width="0.46">b<tspan font-size="5.06" dx="0.55" dy="0.33">7</tspan></text>
<line x1="330.67" y1="509.32" x2="334.41" y2="509.32" stroke="#f9a030" stroke-width="1.04"/>
<text x="334.96" y="512.4" font-size="9.9" fill="#f9a030" text-anchor="start" stroke="#f9a030" stroke-width="0.46">H</text>
<text x="342.33" y="512.73" font-size="5.06" fill="#f9a030" text-anchor="start" stroke="#f9a030" stroke-width="0.46">2</text>
<text x="352.78" y="512.4" font-size="9.9" fill="#f9a030" text-anchor="end" stroke="#f9a030" stroke-width="0.46">O</text>
<text x="330" y="518.25" font-size="4.51" fill="#f9a030" text-anchor="start" textLength="15" lengthAdjust="spacingAndGlyphs" font-weight="bold" stroke="#f9a030" stroke-width="0.15">736.27</text>
<text x="357.9" y="487.9" font-size="9.46" fill="#f5222d" text-anchor="start" textLength="7.8" lengthAdjust="spacingAndGlyphs" stroke="#f5222d" stroke-width="0.46">y<tspan font-size="5.68" dy="0.44">7</tspan></text>
<text x="355" y="495.25" font-size="4.51" fill="#f5222d" text-anchor="start" textLength="14.3" lengthAdjust="spacingAndGlyphs" font-weight="bold" stroke="#f5222d" stroke-width="0.15">790.18</text>
<text x="376.2" y="520.8" font-size="9.46" fill="#3535f5" text-anchor="start" textLength="8.8" lengthAdjust="spacingAndGlyphs" stroke="#3535f5" stroke-width="0.46">b<tspan font-size="5.68" dy="0.44">8</tspan></text>
<text x="373.3" y="527.55" font-size="4.51" fill="#3535f5" text-anchor="start" textLength="15" lengthAdjust="spacingAndGlyphs" font-weight="bold" stroke="#3535f5" stroke-width="0.15">851.34</text>
<text x="399" y="517.2" font-size="9.46" fill="#f5222d" text-anchor="start" textLength="8.9" lengthAdjust="spacingAndGlyphs" stroke="#f5222d" stroke-width="0.46">y<tspan font-size="5.68" dy="0.44">8</tspan></text>
<text x="396.4" y="524.15" font-size="4.51" fill="#f5222d" text-anchor="start" textLength="14.3" lengthAdjust="spacingAndGlyphs" font-weight="bold" stroke="#f5222d" stroke-width="0.15">877.34</text>
<text x="428.7" y="520.2" font-size="9.46" fill="#3535f5" text-anchor="start" textLength="8.4" lengthAdjust="spacingAndGlyphs" stroke="#3535f5" stroke-width="0.46">b<tspan font-size="5.68" dy="0.44">9</tspan></text>
<text x="425.7" y="526.65" font-size="4.51" fill="#3535f5" text-anchor="start" textLength="15" lengthAdjust="spacingAndGlyphs" font-weight="bold" stroke="#3535f5" stroke-width="0.15">946.39</text>
<text x="459.3" y="470.8" font-size="9.46" fill="#3535f5" text-anchor="start" textLength="12.8" lengthAdjust="spacingAndGlyphs" stroke="#3535f5" stroke-width="0.46">b<tspan font-size="5.68" dy="0.44">10</tspan></text>
<text x="457.9" y="478.05" font-size="4.51" fill="#3535f5" text-anchor="start" textLength="15.7" lengthAdjust="spacingAndGlyphs" font-weight="bold" stroke="#3535f5" stroke-width="0.15">1017.4</text>
<text x="440.1" y="498.2" font-size="9.46" fill="#f9a030" text-anchor="start" stroke="#f9a030" stroke-width="0.46">b<tspan font-size="5.06" dx="0.55" dy="0.33">10</tspan></text>
<line x1="452.67" y1="495.12" x2="456.41" y2="495.12" stroke="#f9a030" stroke-width="1.04"/>
<text x="456.96" y="498.2" font-size="9.9" fill="#f9a030" text-anchor="start" stroke="#f9a030" stroke-width="0.46">H</text>
<text x="464.33" y="498.53" font-size="5.06" fill="#f9a030" text-anchor="start" stroke="#f9a030" stroke-width="0.46">2</text>
<text x="474.78" y="498.2" font-size="9.9" fill="#f9a030" text-anchor="end" stroke="#f9a030" stroke-width="0.46">O</text>
<text x="450" y="504.35" font-size="4.51" fill="#f9a030" text-anchor="start" textLength="13.6" lengthAdjust="spacingAndGlyphs" font-weight="bold" stroke="#f9a030" stroke-width="0.15">999.39</text>
<text x="511.4" y="461.8" font-size="9.46" fill="#3535f5" text-anchor="start" textLength="12.2" lengthAdjust="spacingAndGlyphs" stroke="#3535f5" stroke-width="0.46">b<tspan font-size="5.68" dy="0.44">11</tspan></text>
<text x="509.3" y="468.55" font-size="4.51" fill="#3535f5" text-anchor="start" textLength="17.8" lengthAdjust="spacingAndGlyphs" font-weight="bold" stroke="#3535f5" stroke-width="0.15">1130.48</text>
<text x="507" y="487" font-size="9.46" fill="#f5222d" text-anchor="start" textLength="11.7" lengthAdjust="spacingAndGlyphs" stroke="#f5222d" stroke-width="0.46">y<tspan font-size="5.68" dy="0.44">10</tspan></text>
<text x="504.3" y="494.35" font-size="4.51" fill="#f5222d" text-anchor="start" textLength="17.8" lengthAdjust="spacingAndGlyphs" font-weight="bold" stroke="#f5222d" stroke-width="0.15">1121.48</text>
<text x="504.4" y="518.3" font-size="9.46" fill="#f9a030" text-anchor="start" stroke="#f9a030" stroke-width="0.46">b<tspan font-size="5.06" dx="0.55" dy="0.33">11</tspan></text>
<line x1="517.27" y1="515.22" x2="521.01" y2="515.22" stroke="#f9a030" stroke-width="1.04"/>
<text x="521.56" y="518.3" font-size="9.9" fill="#f9a030" text-anchor="start" stroke="#f9a030" stroke-width="0.46">H</text>
<text x="528.93" y="518.63" font-size="5.06" fill="#f9a030" text-anchor="start" stroke="#f9a030" stroke-width="0.46">2</text>
<text x="539.38" y="518.3" font-size="9.9" fill="#f9a030" text-anchor="end" stroke="#f9a030" stroke-width="0.46">O</text>
<text x="513.6" y="524.55" font-size="4.51" fill="#f9a030" text-anchor="start" textLength="17.1" lengthAdjust="spacingAndGlyphs" font-weight="bold" stroke="#f9a030" stroke-width="0.15">1112.47</text>
<text x="543.9" y="488.1" font-size="9.46" fill="#f9a030" text-anchor="start" stroke="#f9a030" stroke-width="0.46">b<tspan font-size="5.06" dx="0.55" dy="0.33">12</tspan></text>
<line x1="557.17" y1="485.02" x2="560.91" y2="485.02" stroke="#f9a030" stroke-width="1.04"/>
<text x="561.46" y="488.1" font-size="9.9" fill="#f9a030" text-anchor="start" stroke="#f9a030" stroke-width="0.46">H</text>
<text x="568.83" y="488.43" font-size="5.06" fill="#f9a030" text-anchor="start" stroke="#f9a030" stroke-width="0.46">2</text>
<text x="579.28" y="488.1" font-size="9.9" fill="#f9a030" text-anchor="end" stroke="#f9a030" stroke-width="0.46">O</text>
<text x="554.3" y="494.85" font-size="4.51" fill="#f9a030" text-anchor="start" textLength="15" lengthAdjust="spacingAndGlyphs" font-weight="bold" stroke="#f9a030" stroke-width="0.15">1227.5</text>
<text x="562.1" y="522.6" font-size="9.46" fill="#f5222d" text-anchor="start" textLength="12.1" lengthAdjust="spacingAndGlyphs" stroke="#f5222d" stroke-width="0.46">y<tspan font-size="5.68" dy="0.44">11</tspan></text>
<text x="560.7" y="529.05" font-size="4.51" fill="#f5222d" text-anchor="start" textLength="15" lengthAdjust="spacingAndGlyphs" font-weight="bold" stroke="#f5222d" stroke-width="0.15">1229.5</text>
<text x="591.4" y="510.8" font-size="9.46" fill="#3535f5" text-anchor="start" textLength="12.9" lengthAdjust="spacingAndGlyphs" stroke="#3535f5" stroke-width="0.46">b<tspan font-size="5.68" dy="0.44">12</tspan></text>
<text x="589.3" y="517.85" font-size="4.51" fill="#3535f5" text-anchor="start" textLength="16.4" lengthAdjust="spacingAndGlyphs" font-weight="bold" stroke="#3535f5" stroke-width="0.15">1246.51</text>
<text x="624" y="521.7" font-size="9.46" fill="#3535f5" text-anchor="start" textLength="12.4" lengthAdjust="spacingAndGlyphs" stroke="#3535f5" stroke-width="0.46">b<tspan font-size="5.68" dy="0.44">13</tspan></text>
<text x="622.1" y="527.95" font-size="4.51" fill="#3535f5" text-anchor="start" textLength="17.2" lengthAdjust="spacingAndGlyphs" font-weight="bold" stroke="#3535f5" stroke-width="0.15">1376.55</text>
<text x="10" y="593.2" font-size="9.2" fill="#333" text-anchor="middle">-</text>
<text x="381.2" y="593.2" font-size="9.2" fill="#333" text-anchor="middle">-</text>
<text x="35.3" y="593.4" font-size="9.2" fill="#333" text-anchor="middle" stroke="#333" stroke-width="0.25">S</text>
<text x="60" y="593.4" font-size="9.2" fill="#333" text-anchor="middle" stroke="#333" stroke-width="0.25">S</text>
<text x="84.7" y="593.4" font-size="9.2" fill="#333" text-anchor="middle" stroke="#333" stroke-width="0.25">E</text>
<text x="109.4" y="593.4" font-size="9.2" fill="#333" text-anchor="middle" stroke="#333" stroke-width="0.25">V</text>
<text x="134.1" y="593.4" font-size="9.2" fill="#333" text-anchor="middle" stroke="#333" stroke-width="0.25">E</text>
<text x="158.8" y="593.4" font-size="9.2" fill="#333" text-anchor="middle" stroke="#333" stroke-width="0.25">D</text>
<text x="183.5" y="593.4" font-size="9.2" fill="#333" text-anchor="middle" stroke="#333" stroke-width="0.25">S</text>
<text x="208.2" y="593.4" font-size="9.2" fill="#333" text-anchor="middle" stroke="#333" stroke-width="0.25">P</text>
<text x="232.9" y="593.4" font-size="9.2" fill="#333" text-anchor="middle" stroke="#333" stroke-width="0.25">D</text>
<text x="257.6" y="593.4" font-size="9.2" fill="#333" text-anchor="middle" stroke="#333" stroke-width="0.25">A</text>
<text x="282.3" y="593.4" font-size="9.2" fill="#333" text-anchor="middle" stroke="#333" stroke-width="0.25">I</text>
<text x="307" y="593.4" font-size="9.2" fill="#333" text-anchor="middle" stroke="#333" stroke-width="0.25">D</text>
<text x="331.7" y="593.4" font-size="9.2" fill="#333" text-anchor="middle" stroke="#333" stroke-width="0.25">M</text>
<text x="356.4" y="593.4" font-size="9.2" fill="#333" text-anchor="middle" stroke="#333" stroke-width="0.25">E</text>
<line x1="51" y1="609.2" x2="72" y2="609.2" stroke="#6060ff" stroke-width="1.1"/>
<line x1="71.5" y1="588.4" x2="71.5" y2="609.2" stroke="#6060ff" stroke-width="1.1"/>
<text x="59.5" y="606.6" font-size="7" fill="#3535f5" text-anchor="middle" stroke="#3535f5" stroke-width="0.35">b<tspan font-size="4.9" dy="0.3">2</tspan></text>
<line x1="75.2" y1="609.2" x2="96.7" y2="609.2" stroke="#6060ff" stroke-width="1.1"/>
<line x1="96.2" y1="588.4" x2="96.2" y2="609.2" stroke="#6060ff" stroke-width="1.1"/>
<text x="84.2" y="606.6" font-size="7" fill="#3535f5" text-anchor="middle" stroke="#3535f5" stroke-width="0.35">b<tspan font-size="4.9" dy="0.3">3</tspan></text>
<line x1="100.3" y1="609.2" x2="122" y2="609.2" stroke="#6060ff" stroke-width="1.1"/>
<line x1="121.5" y1="588.4" x2="121.5" y2="609.2" stroke="#6060ff" stroke-width="1.1"/>
<text x="108.9" y="606.6" font-size="7" fill="#3535f5" text-anchor="middle" stroke="#3535f5" stroke-width="0.35">b<tspan font-size="4.9" dy="0.3">4</tspan></text>
<line x1="149" y1="609.2" x2="171.4" y2="609.2" stroke="#6060ff" stroke-width="1.1"/>
<line x1="170.9" y1="588.4" x2="170.9" y2="609.2" stroke="#6060ff" stroke-width="1.1"/>
<text x="158.3" y="606.6" font-size="7" fill="#3535f5" text-anchor="middle" stroke="#3535f5" stroke-width="0.35">b<tspan font-size="4.9" dy="0.3">6</tspan></text>
<line x1="174" y1="609.2" x2="195.9" y2="609.2" stroke="#6060ff" stroke-width="1.1"/>
<line x1="195.4" y1="588.4" x2="195.4" y2="609.2" stroke="#6060ff" stroke-width="1.1"/>
<text x="183" y="606.6" font-size="7" fill="#3535f5" text-anchor="middle" stroke="#3535f5" stroke-width="0.35">b<tspan font-size="4.9" dy="0.3">7</tspan></text>
<line x1="199.1" y1="609.2" x2="221" y2="609.2" stroke="#6060ff" stroke-width="1.1"/>
<line x1="220.5" y1="588.4" x2="220.5" y2="609.2" stroke="#6060ff" stroke-width="1.1"/>
<text x="207.7" y="606.6" font-size="7" fill="#3535f5" text-anchor="middle" stroke="#3535f5" stroke-width="0.35">b<tspan font-size="4.9" dy="0.3">8</tspan></text>
<line x1="224.6" y1="609.2" x2="245.6" y2="609.2" stroke="#6060ff" stroke-width="1.1"/>
<line x1="245.1" y1="588.4" x2="245.1" y2="609.2" stroke="#6060ff" stroke-width="1.1"/>
<text x="232.4" y="606.6" font-size="7" fill="#3535f5" text-anchor="middle" stroke="#3535f5" stroke-width="0.35">b<tspan font-size="4.9" dy="0.3">9</tspan></text>
<line x1="248.8" y1="609.2" x2="270.3" y2="609.2" stroke="#6060ff" stroke-width="1.1"/>
<line x1="269.8" y1="588.4" x2="269.8" y2="609.2" stroke="#6060ff" stroke-width="1.1"/>
<text x="257.1" y="606.6" font-size="7" fill="#3535f5" text-anchor="middle" stroke="#3535f5" stroke-width="0.35">b<tspan font-size="4.9" dy="0.3">10</tspan></text>
<line x1="273.9" y1="609.2" x2="294.8" y2="609.2" stroke="#6060ff" stroke-width="1.1"/>
<line x1="294.3" y1="588.4" x2="294.3" y2="609.2" stroke="#6060ff" stroke-width="1.1"/>
<text x="281.8" y="606.6" font-size="7" fill="#3535f5" text-anchor="middle" stroke="#3535f5" stroke-width="0.35">b<tspan font-size="4.9" dy="0.3">11</tspan></text>
<line x1="298.9" y1="609.2" x2="318.9" y2="609.2" stroke="#6060ff" stroke-width="1.1"/>
<line x1="318.4" y1="588.4" x2="318.4" y2="609.2" stroke="#6060ff" stroke-width="1.1"/>
<text x="306.5" y="606.6" font-size="7" fill="#3535f5" text-anchor="middle" stroke="#3535f5" stroke-width="0.35">b<tspan font-size="4.9" dy="0.3">12</tspan></text>
<line x1="324" y1="609.2" x2="344.3" y2="609.2" stroke="#6060ff" stroke-width="1.1"/>
<line x1="343.8" y1="588.4" x2="343.8" y2="609.2" stroke="#6060ff" stroke-width="1.1"/>
<text x="331.2" y="606.6" font-size="7" fill="#3535f5" text-anchor="middle" stroke="#3535f5" stroke-width="0.35">b<tspan font-size="4.9" dy="0.3">13</tspan></text>
<line x1="96.2" y1="567" x2="96.2" y2="588.4" stroke="#ff6060" stroke-width="1.1"/>
<line x1="95.7" y1="567" x2="117.5" y2="567" stroke="#ff6060" stroke-width="1.1"/>
<text x="108.9" y="575.4" font-size="6.8" fill="#f5222d" text-anchor="middle" stroke="#f5222d" stroke-width="0.25">y<tspan font-size="4.6" dy="0.3">11</tspan></text>
<line x1="121.5" y1="567" x2="121.5" y2="588.4" stroke="#ff6060" stroke-width="1.1"/>
<line x1="121" y1="567" x2="142.8" y2="567" stroke="#ff6060" stroke-width="1.1"/>
<text x="133.6" y="575.4" font-size="6.8" fill="#f5222d" text-anchor="middle" stroke="#f5222d" stroke-width="0.25">y<tspan font-size="4.6" dy="0.3">10</tspan></text>
<line x1="170.9" y1="567" x2="170.9" y2="588.4" stroke="#ff6060" stroke-width="1.1"/>
<line x1="170.4" y1="567" x2="192.2" y2="567" stroke="#ff6060" stroke-width="1.1"/>
<text x="183" y="575.4" font-size="6.8" fill="#f5222d" text-anchor="middle" stroke="#f5222d" stroke-width="0.25">y<tspan font-size="4.6" dy="0.3">8</tspan></text>
<line x1="195.4" y1="567" x2="195.4" y2="588.4" stroke="#ff6060" stroke-width="1.1"/>
<line x1="194.9" y1="567" x2="216.7" y2="567" stroke="#ff6060" stroke-width="1.1"/>
<text x="207.7" y="575.4" font-size="6.8" fill="#f5222d" text-anchor="middle" stroke="#f5222d" stroke-width="0.25">y<tspan font-size="4.6" dy="0.3">7</tspan></text>
<line x1="269.8" y1="567" x2="269.8" y2="588.4" stroke="#ff6060" stroke-width="1.1"/>
<line x1="269.3" y1="567" x2="291.1" y2="567" stroke="#ff6060" stroke-width="1.1"/>
<text x="281.8" y="575.4" font-size="6.8" fill="#f5222d" text-anchor="middle" stroke="#f5222d" stroke-width="0.25">y<tspan font-size="4.6" dy="0.3">4</tspan></text>
<line x1="294.3" y1="567" x2="294.3" y2="588.4" stroke="#ff6060" stroke-width="1.1"/>
<line x1="293.8" y1="567" x2="315.6" y2="567" stroke="#ff6060" stroke-width="1.1"/>
<text x="306.5" y="575.4" font-size="6.8" fill="#f5222d" text-anchor="middle" stroke="#f5222d" stroke-width="0.25">y<tspan font-size="4.6" dy="0.3">3</tspan></text>
<line x1="318.4" y1="567" x2="318.4" y2="588.4" stroke="#ff6060" stroke-width="1.1"/>
<line x1="317.9" y1="567" x2="339.7" y2="567" stroke="#ff6060" stroke-width="1.1"/>
<text x="331.2" y="575.4" font-size="6.8" fill="#f5222d" text-anchor="middle" stroke="#f5222d" stroke-width="0.25">y<tspan font-size="4.6" dy="0.3">2</tspan></text>
<line x1="343.8" y1="567" x2="343.8" y2="588.4" stroke="#ff6060" stroke-width="1.1"/>
<line x1="343.3" y1="567" x2="365.1" y2="567" stroke="#ff6060" stroke-width="1.1"/>
<text x="355.9" y="575.4" font-size="6.8" fill="#f5222d" text-anchor="middle" stroke="#f5222d" stroke-width="0.25">y<tspan font-size="4.6" dy="0.3">1</tspan></text>
<rect x="125.2" y="313.2" width="1.1" height="1.1" fill="#c8c8c8"/>
</g></svg></div></body></html>
